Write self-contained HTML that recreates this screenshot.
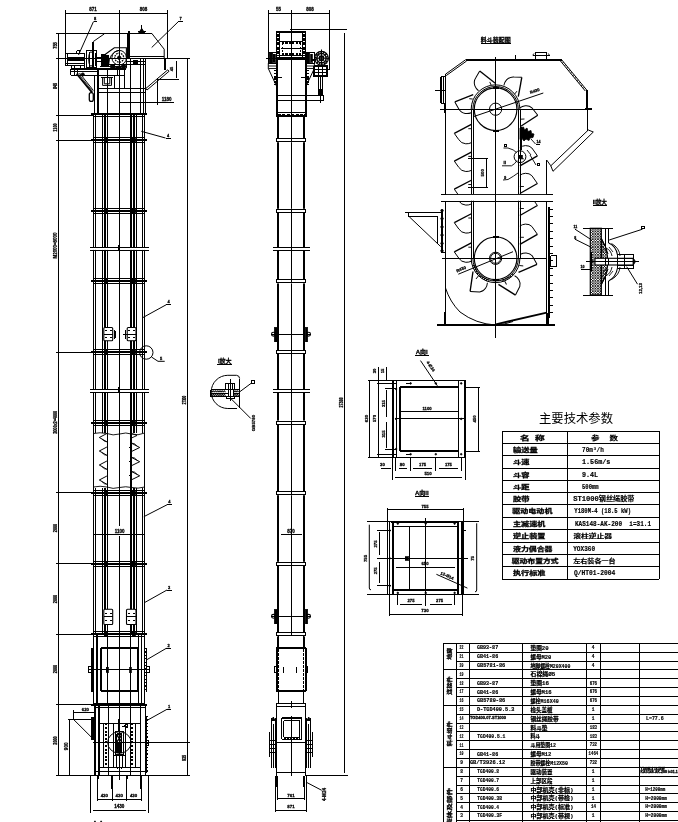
<!DOCTYPE html>
<html lang="zh"><head><meta charset="utf-8"><title>TGD</title>
<style>
html,body{margin:0;padding:0;background:#fff;}
body{width:678px;height:822px;overflow:hidden;}
svg{display:block;filter:grayscale(1);}
svg line,svg rect,svg circle,svg ellipse,svg path{stroke:#000;}
svg text{font-family:"Liberation Sans","Noto Sans CJK SC",sans-serif;fill:#000;}
svg text{stroke:#000;stroke-width:0.26px;}
svg text.m{font-family:"Liberation Mono","Noto Sans CJK SC",monospace;stroke-width:0.15px;}
</style></head><body>
<svg width="678" height="822" viewBox="0 0 678 822">
<rect x="0" y="0" width="678" height="822" fill="#fff" stroke="none" style="stroke:none"/>
<line x1="65.50" y1="13.50" x2="167.50" y2="13.50" stroke-width="1.00" shape-rendering="crispEdges"/>
<line x1="65.50" y1="10.00" x2="65.50" y2="65.00" stroke-width="1.00" shape-rendering="crispEdges"/>
<line x1="167.50" y1="10.00" x2="167.50" y2="58.30" stroke-width="1.00" shape-rendering="crispEdges"/>
<line x1="119.50" y1="10.00" x2="119.50" y2="526.00" stroke-width="1.00" shape-rendering="crispEdges"/>
<line x1="119.50" y1="536.00" x2="119.50" y2="780.00" stroke-width="1.00" shape-rendering="crispEdges"/>
<text x="93.00" y="10.50" font-size="4.5" text-anchor="middle" font-weight="bold">871</text>
<text x="143.50" y="10.50" font-size="4.5" text-anchor="middle" font-weight="bold">808</text>
<line x1="58.50" y1="33.30" x2="58.50" y2="775.50" stroke-width="1.00" shape-rendering="crispEdges"/>
<line x1="55.80" y1="33.50" x2="93.50" y2="33.50" stroke-width="1.00" shape-rendering="crispEdges"/>
<line x1="55.80" y1="58.50" x2="93.50" y2="58.50" stroke-width="1.00" shape-rendering="crispEdges"/>
<line x1="55.80" y1="115.50" x2="93.50" y2="115.50" stroke-width="1.00" shape-rendering="crispEdges"/>
<line x1="55.80" y1="140.50" x2="93.50" y2="140.50" stroke-width="1.00" shape-rendering="crispEdges"/>
<line x1="55.80" y1="352.50" x2="93.50" y2="352.50" stroke-width="1.00" shape-rendering="crispEdges"/>
<line x1="55.80" y1="492.50" x2="93.50" y2="492.50" stroke-width="1.00" shape-rendering="crispEdges"/>
<line x1="55.80" y1="563.50" x2="93.50" y2="563.50" stroke-width="1.00" shape-rendering="crispEdges"/>
<line x1="55.80" y1="634.50" x2="93.50" y2="634.50" stroke-width="1.00" shape-rendering="crispEdges"/>
<line x1="55.80" y1="704.50" x2="93.50" y2="704.50" stroke-width="1.00" shape-rendering="crispEdges"/>
<line x1="55.80" y1="775.50" x2="190.00" y2="775.50" stroke-width="1.00" shape-rendering="crispEdges"/>
<text x="56.70" y="45.50" font-size="5" text-anchor="middle" font-weight="bold" textLength="6.70" lengthAdjust="spacingAndGlyphs" transform="rotate(-90 56.70 45.50)">755</text>
<text x="56.70" y="86.00" font-size="5" text-anchor="middle" font-weight="bold" textLength="6.20" lengthAdjust="spacingAndGlyphs" transform="rotate(-90 56.70 86.00)">845</text>
<text x="56.70" y="127.50" font-size="5" text-anchor="middle" font-weight="bold" textLength="8.30" lengthAdjust="spacingAndGlyphs" transform="rotate(-90 56.70 127.50)">1100</text>
<text x="56.70" y="245.50" font-size="5" text-anchor="middle" font-weight="bold" textLength="26.00" lengthAdjust="spacingAndGlyphs" transform="rotate(-90 56.70 245.50)">M2000=8000</text>
<text x="56.70" y="422.30" font-size="5" text-anchor="middle" font-weight="bold" textLength="23.00" lengthAdjust="spacingAndGlyphs" transform="rotate(-90 56.70 422.30)">2000x2=4000</text>
<text x="56.70" y="528.00" font-size="5" text-anchor="middle" font-weight="bold" textLength="8.30" lengthAdjust="spacingAndGlyphs" transform="rotate(-90 56.70 528.00)">2000</text>
<text x="56.70" y="599.00" font-size="5" text-anchor="middle" font-weight="bold" textLength="8.30" lengthAdjust="spacingAndGlyphs" transform="rotate(-90 56.70 599.00)">2000</text>
<text x="56.70" y="669.00" font-size="5" text-anchor="middle" font-weight="bold" textLength="8.30" lengthAdjust="spacingAndGlyphs" transform="rotate(-90 56.70 669.00)">2000</text>
<text x="56.70" y="740.50" font-size="5" text-anchor="middle" font-weight="bold" textLength="8.30" lengthAdjust="spacingAndGlyphs" transform="rotate(-90 56.70 740.50)">2000</text>
<line x1="187.50" y1="58.30" x2="187.50" y2="775.50" stroke-width="1.00" shape-rendering="crispEdges"/>
<line x1="93.00" y1="58.50" x2="190.00" y2="58.50" stroke-width="1.00" shape-rendering="crispEdges"/>
<line x1="92.50" y1="742.50" x2="190.00" y2="742.50" stroke-width="1.00" shape-rendering="crispEdges"/>
<text x="185.80" y="400.00" font-size="4.8" text-anchor="middle" font-weight="bold" textLength="8.60" lengthAdjust="spacingAndGlyphs" transform="rotate(-90 185.80 400.00)">27300</text>
<text x="185.80" y="758.00" font-size="4.8" text-anchor="middle" font-weight="bold" textLength="6.20" lengthAdjust="spacingAndGlyphs" transform="rotate(-90 185.80 758.00)">935</text>
<line x1="55.80" y1="33.50" x2="151.70" y2="33.50" stroke-width="1.00" shape-rendering="crispEdges"/>
<path d="M151.7 33.3 L164.2 49.2 L164.2 58" stroke-width="1.00" fill="none"/>
<line x1="165.00" y1="58.00" x2="165.00" y2="70.00" stroke-width="2.00" shape-rendering="crispEdges"/>
<line x1="129.00" y1="30.80" x2="129.00" y2="58.30" stroke-width="2.00" shape-rendering="crispEdges"/>
<line x1="127.50" y1="33.30" x2="127.50" y2="58.30" stroke-width="1.00" shape-rendering="crispEdges"/>
<line x1="128.70" y1="56.50" x2="164.20" y2="56.50" stroke-width="1.00" shape-rendering="crispEdges"/>
<line x1="141.50" y1="25.00" x2="141.50" y2="33.30" stroke-width="1.00" shape-rendering="crispEdges"/>
<path d="M138.5 33.3 L141.7 28.5 L144.9 33.3 Z" stroke-width="1.00" fill="#000"/>
<line x1="137.50" y1="31.50" x2="146.00" y2="31.50" stroke-width="1.00" shape-rendering="crispEdges"/>
<line x1="151.70" y1="47.50" x2="178.30" y2="21.70" stroke-width="1.00"/>
<line x1="178.30" y1="21.50" x2="182.50" y2="21.50" stroke-width="1.00" shape-rendering="crispEdges"/>
<text x="180.50" y="20.30" font-size="4" text-anchor="middle" font-weight="bold">7</text>
<line x1="78.50" y1="55.00" x2="93.50" y2="21.50" stroke-width="1.00"/>
<line x1="93.50" y1="21.50" x2="97.00" y2="21.50" stroke-width="1.00" shape-rendering="crispEdges"/>
<text x="95.00" y="20.30" font-size="4" text-anchor="middle" font-weight="bold">8</text>
<line x1="93.20" y1="41.60" x2="104.30" y2="33.90" stroke-width="1.00"/>
<line x1="93.00" y1="41.60" x2="93.00" y2="50.50" stroke-width="2.00" shape-rendering="crispEdges"/>
<line x1="65.50" y1="53.50" x2="85.40" y2="53.50" stroke-width="1.00" shape-rendering="crispEdges"/>
<line x1="65.50" y1="65.50" x2="85.40" y2="65.50" stroke-width="1.00" shape-rendering="crispEdges"/>
<line x1="65.50" y1="53.80" x2="65.50" y2="65.80" stroke-width="1.00" shape-rendering="crispEdges"/>
<line x1="84.50" y1="53.80" x2="84.50" y2="65.80" stroke-width="1.00" shape-rendering="crispEdges"/>
<line x1="68.30" y1="59.00" x2="83.80" y2="59.00" stroke-width="4.00" shape-rendering="crispEdges"/>
<line x1="65.50" y1="63.50" x2="84.90" y2="63.50" stroke-width="1.00" shape-rendering="crispEdges"/>
<line x1="67.50" y1="53.80" x2="67.50" y2="65.80" stroke-width="1.00" shape-rendering="crispEdges"/>
<line x1="76.60" y1="50.50" x2="80.40" y2="50.50" stroke-width="1.00" shape-rendering="crispEdges"/>
<line x1="76.60" y1="53.50" x2="80.40" y2="53.50" stroke-width="1.00" shape-rendering="crispEdges"/>
<line x1="76.50" y1="50.50" x2="76.50" y2="53.40" stroke-width="1.00" shape-rendering="crispEdges"/>
<line x1="79.50" y1="50.50" x2="79.50" y2="53.40" stroke-width="1.00" shape-rendering="crispEdges"/>
<line x1="71.00" y1="65.50" x2="84.50" y2="65.50" stroke-width="1.00" shape-rendering="crispEdges"/>
<line x1="71.00" y1="68.50" x2="84.50" y2="68.50" stroke-width="1.00" shape-rendering="crispEdges"/>
<line x1="71.50" y1="65.80" x2="71.50" y2="68.70" stroke-width="1.00" shape-rendering="crispEdges"/>
<line x1="84.50" y1="65.80" x2="84.50" y2="68.70" stroke-width="1.00" shape-rendering="crispEdges"/>
<line x1="74.50" y1="65.80" x2="74.50" y2="68.70" stroke-width="1.00" shape-rendering="crispEdges"/>
<line x1="80.50" y1="65.80" x2="80.50" y2="68.70" stroke-width="1.00" shape-rendering="crispEdges"/>
<line x1="86.40" y1="50.50" x2="97.00" y2="50.50" stroke-width="1.00" shape-rendering="crispEdges"/>
<line x1="86.40" y1="67.50" x2="97.00" y2="67.50" stroke-width="1.00" shape-rendering="crispEdges"/>
<line x1="86.50" y1="50.50" x2="86.50" y2="67.60" stroke-width="1.00" shape-rendering="crispEdges"/>
<line x1="96.50" y1="50.50" x2="96.50" y2="67.60" stroke-width="1.00" shape-rendering="crispEdges"/>
<line x1="89.50" y1="52.00" x2="89.50" y2="66.50" stroke-width="1.00" shape-rendering="crispEdges"/>
<line x1="93.00" y1="51.00" x2="93.00" y2="67.00" stroke-width="2.00" shape-rendering="crispEdges"/>
<line x1="95.50" y1="53.00" x2="95.50" y2="66.00" stroke-width="1.00" shape-rendering="crispEdges"/>
<ellipse cx="91.00" cy="59.00" rx="2.40" ry="7.20" stroke-width="0.90" fill="none"/>
<line x1="96.50" y1="57.50" x2="101.50" y2="57.50" stroke-width="1.00" shape-rendering="crispEdges"/>
<line x1="96.50" y1="61.50" x2="101.50" y2="61.50" stroke-width="1.00" shape-rendering="crispEdges"/>
<line x1="84.90" y1="58.50" x2="86.40" y2="58.50" stroke-width="1.00" shape-rendering="crispEdges"/>
<rect x="101.70" y="54.50" width="3.50" height="11.80" stroke-width="1.00" fill="#000" shape-rendering="crispEdges"/>
<line x1="106.20" y1="55.50" x2="108.50" y2="55.50" stroke-width="1.00" shape-rendering="crispEdges"/>
<line x1="106.20" y1="66.50" x2="108.50" y2="66.50" stroke-width="1.00" shape-rendering="crispEdges"/>
<line x1="106.50" y1="55.50" x2="106.50" y2="66.00" stroke-width="1.00" shape-rendering="crispEdges"/>
<line x1="108.50" y1="55.50" x2="108.50" y2="66.00" stroke-width="1.00" shape-rendering="crispEdges"/>
<line x1="107.50" y1="55.50" x2="107.50" y2="66.00" stroke-width="1.00" shape-rendering="crispEdges"/>
<path d="M105.4 54.3 L114.3 47.7 L126.4 47.7 L126.4 68.2" stroke-width="1.10" fill="none"/>
<path d="M108.5 66 Q109 52 119.2 50.4" stroke-width="1.00" fill="none"/>
<circle cx="119.20" cy="57.70" r="7.30" stroke-width="1.00" fill="none"/>
<circle cx="119.2" cy="57.7" r="4.5" stroke-width="1.3" fill="none" stroke-dasharray="1.6 0.9"/>
<circle cx="119.20" cy="57.70" r="1.70" stroke-width="1.00" fill="#000"/>
<line x1="108.00" y1="64.50" x2="127.00" y2="64.50" stroke-width="1.00" shape-rendering="crispEdges"/>
<line x1="100.00" y1="66.50" x2="127.00" y2="66.50" stroke-width="1.00" shape-rendering="crispEdges"/>
<rect x="110.50" y="65.30" width="4.00" height="2.90" stroke-width="0.80" fill="#000" shape-rendering="crispEdges"/>
<rect x="121.50" y="65.30" width="3.50" height="2.90" stroke-width="0.80" fill="#000" shape-rendering="crispEdges"/>
<rect x="115.50" y="66.30" width="5.00" height="2.10" stroke-width="0.80" fill="#000" shape-rendering="crispEdges"/>
<line x1="70.50" y1="69.00" x2="126.40" y2="69.00" stroke-width="2.00" shape-rendering="crispEdges"/>
<line x1="70.50" y1="75.50" x2="124.20" y2="75.50" stroke-width="1.00" shape-rendering="crispEdges"/>
<line x1="70.50" y1="71.50" x2="98.00" y2="71.50" stroke-width="1.00" shape-rendering="crispEdges"/>
<line x1="70.50" y1="68.80" x2="70.50" y2="75.40" stroke-width="1.00" shape-rendering="crispEdges"/>
<line x1="74.50" y1="68.80" x2="74.50" y2="75.40" stroke-width="1.00" shape-rendering="crispEdges"/>
<line x1="77.50" y1="68.80" x2="77.50" y2="75.40" stroke-width="1.00" shape-rendering="crispEdges"/>
<line x1="98.00" y1="68.80" x2="98.00" y2="75.40" stroke-width="2.00" shape-rendering="crispEdges"/>
<line x1="107.50" y1="68.80" x2="107.50" y2="75.40" stroke-width="1.00" shape-rendering="crispEdges"/>
<line x1="117.50" y1="68.80" x2="117.50" y2="75.40" stroke-width="1.00" shape-rendering="crispEdges"/>
<line x1="124.50" y1="68.80" x2="124.50" y2="75.40" stroke-width="1.00" shape-rendering="crispEdges"/>
<path d="M102.6 77 L102.6 85.4 L111.5 85.4 L111.5 77 M104.3 77 L104.3 83.8 L109.8 83.8 L109.8 77" stroke-width="1.00" fill="none"/>
<line x1="101.00" y1="77.50" x2="113.00" y2="77.50" stroke-width="1.00" shape-rendering="crispEdges"/>
<line x1="114.50" y1="75.40" x2="114.50" y2="88.30" stroke-width="1.00" shape-rendering="crispEdges"/>
<line x1="124.50" y1="75.40" x2="124.50" y2="88.30" stroke-width="1.00" shape-rendering="crispEdges"/>
<line x1="76.60" y1="73.70" x2="92.10" y2="92.60" stroke-width="1.70"/>
<line x1="79.50" y1="73.00" x2="93.40" y2="90.50" stroke-width="1.00"/>
<line x1="78.00" y1="73.30" x2="92.80" y2="91.60" stroke-width="0.80"/>
<circle cx="82.80" cy="74.50" r="1.50" stroke-width="1.00" fill="#000"/>
<rect x="89.3" y="92.6" width="4" height="8.8" rx="1.9" stroke-width="1.3" fill="none"/>
<line x1="94.50" y1="75.40" x2="94.50" y2="115.00" stroke-width="1.00" shape-rendering="crispEdges"/>
<line x1="98.00" y1="75.40" x2="98.00" y2="115.00" stroke-width="2.00" shape-rendering="crispEdges"/>
<line x1="107.50" y1="75.40" x2="107.50" y2="115.00" stroke-width="1.00" shape-rendering="crispEdges"/>
<line x1="130.50" y1="58.30" x2="130.50" y2="115.00" stroke-width="1.00" shape-rendering="crispEdges"/>
<line x1="140.50" y1="58.30" x2="140.50" y2="115.00" stroke-width="1.00" shape-rendering="crispEdges"/>
<line x1="143.50" y1="58.30" x2="143.50" y2="115.00" stroke-width="1.00" shape-rendering="crispEdges"/>
<line x1="145.50" y1="58.30" x2="145.50" y2="115.00" stroke-width="1.00" shape-rendering="crispEdges"/>
<line x1="127.00" y1="61.50" x2="145.00" y2="61.50" stroke-width="1.00" shape-rendering="crispEdges"/>
<line x1="127.00" y1="64.50" x2="145.00" y2="64.50" stroke-width="1.00" shape-rendering="crispEdges"/>
<line x1="98.20" y1="88.50" x2="145.00" y2="88.50" stroke-width="1.00" shape-rendering="crispEdges"/>
<line x1="99.30" y1="92.50" x2="145.00" y2="92.50" stroke-width="1.00" shape-rendering="crispEdges"/>
<line x1="119.50" y1="102.50" x2="173.50" y2="102.50" stroke-width="1.00" shape-rendering="crispEdges"/>
<rect x="133.00" y="60.00" width="4.50" height="3.50" stroke-width="0.80" fill="#000" shape-rendering="crispEdges"/>
<line x1="145.80" y1="88.50" x2="167.80" y2="69.80" stroke-width="1.00"/>
<line x1="147.00" y1="90.00" x2="169.00" y2="71.30" stroke-width="1.00"/>
<line x1="145.80" y1="88.50" x2="147.00" y2="90.00" stroke-width="1.00"/>
<line x1="167.80" y1="69.80" x2="169.00" y2="71.30" stroke-width="1.00"/>
<line x1="157.50" y1="77.50" x2="157.50" y2="104.50" stroke-width="1.00" shape-rendering="crispEdges"/>
<line x1="157.50" y1="79.50" x2="179.00" y2="79.50" stroke-width="1.00" shape-rendering="crispEdges"/>
<line x1="176.50" y1="60.80" x2="176.50" y2="77.50" stroke-width="1.00" shape-rendering="crispEdges"/>
<text x="173.30" y="69.00" font-size="4" text-anchor="middle" font-weight="bold" transform="rotate(-90 173.30 69.00)">45</text>
<text x="166.70" y="100.60" font-size="4.5" text-anchor="middle" font-weight="bold">1180</text>
<line x1="141.30" y1="131.30" x2="165.50" y2="138.00" stroke-width="1.00"/>
<line x1="165.50" y1="138.50" x2="170.50" y2="138.50" stroke-width="1.00" shape-rendering="crispEdges"/>
<text x="168.00" y="136.70" font-size="4" text-anchor="middle" font-weight="bold">4</text>
<line x1="93.50" y1="115.00" x2="93.50" y2="634.30" stroke-width="1.00" shape-rendering="crispEdges"/>
<line x1="95.50" y1="115.00" x2="95.50" y2="432.50" stroke-width="1.00" shape-rendering="crispEdges"/>
<line x1="95.50" y1="487.50" x2="95.50" y2="634.30" stroke-width="1.00" shape-rendering="crispEdges"/>
<line x1="102.50" y1="115.00" x2="102.50" y2="432.50" stroke-width="1.00" shape-rendering="crispEdges"/>
<line x1="102.50" y1="487.50" x2="102.50" y2="634.30" stroke-width="1.00" shape-rendering="crispEdges"/>
<line x1="105.00" y1="115.00" x2="105.00" y2="432.50" stroke-width="2.00" shape-rendering="crispEdges"/>
<line x1="105.00" y1="487.50" x2="105.00" y2="634.30" stroke-width="2.00" shape-rendering="crispEdges"/>
<line x1="107.50" y1="115.00" x2="107.50" y2="634.30" stroke-width="1.00" shape-rendering="crispEdges"/>
<line x1="131.00" y1="115.00" x2="131.00" y2="634.30" stroke-width="2.00" shape-rendering="crispEdges"/>
<line x1="134.00" y1="115.00" x2="134.00" y2="432.50" stroke-width="2.00" shape-rendering="crispEdges"/>
<line x1="134.00" y1="487.50" x2="134.00" y2="634.30" stroke-width="2.00" shape-rendering="crispEdges"/>
<line x1="136.50" y1="115.00" x2="136.50" y2="432.50" stroke-width="1.00" shape-rendering="crispEdges"/>
<line x1="136.50" y1="487.50" x2="136.50" y2="634.30" stroke-width="1.00" shape-rendering="crispEdges"/>
<line x1="142.50" y1="115.00" x2="142.50" y2="432.50" stroke-width="1.00" shape-rendering="crispEdges"/>
<line x1="142.50" y1="487.50" x2="142.50" y2="634.30" stroke-width="1.00" shape-rendering="crispEdges"/>
<line x1="144.50" y1="115.00" x2="144.50" y2="634.30" stroke-width="1.00" shape-rendering="crispEdges"/>
<line x1="91.30" y1="114.00" x2="146.70" y2="114.00" stroke-width="2.00" shape-rendering="crispEdges"/>
<line x1="93.60" y1="116.50" x2="144.70" y2="116.50" stroke-width="1.00" shape-rendering="crispEdges"/>
<line x1="91.00" y1="140.00" x2="146.80" y2="140.00" stroke-width="2.00" shape-rendering="crispEdges"/>
<line x1="93.60" y1="137.50" x2="144.70" y2="137.50" stroke-width="1.00" shape-rendering="crispEdges"/>
<line x1="93.60" y1="142.50" x2="144.70" y2="142.50" stroke-width="1.00" shape-rendering="crispEdges"/>
<rect x="104.00" y="138.20" width="3.00" height="4.00" stroke-width="0.80" fill="#000" shape-rendering="crispEdges"/>
<rect x="132.00" y="138.20" width="3.00" height="4.00" stroke-width="0.80" fill="#000" shape-rendering="crispEdges"/>
<line x1="91.00" y1="211.00" x2="146.80" y2="211.00" stroke-width="2.00" shape-rendering="crispEdges"/>
<line x1="93.60" y1="208.50" x2="144.70" y2="208.50" stroke-width="1.00" shape-rendering="crispEdges"/>
<line x1="93.60" y1="213.50" x2="144.70" y2="213.50" stroke-width="1.00" shape-rendering="crispEdges"/>
<rect x="104.00" y="208.80" width="3.00" height="4.00" stroke-width="0.80" fill="#000" shape-rendering="crispEdges"/>
<rect x="132.00" y="208.80" width="3.00" height="4.00" stroke-width="0.80" fill="#000" shape-rendering="crispEdges"/>
<line x1="91.00" y1="281.00" x2="146.80" y2="281.00" stroke-width="2.00" shape-rendering="crispEdges"/>
<line x1="93.60" y1="278.50" x2="144.70" y2="278.50" stroke-width="1.00" shape-rendering="crispEdges"/>
<line x1="93.60" y1="283.50" x2="144.70" y2="283.50" stroke-width="1.00" shape-rendering="crispEdges"/>
<rect x="104.00" y="279.40" width="3.00" height="4.00" stroke-width="0.80" fill="#000" shape-rendering="crispEdges"/>
<rect x="132.00" y="279.40" width="3.00" height="4.00" stroke-width="0.80" fill="#000" shape-rendering="crispEdges"/>
<line x1="91.00" y1="352.00" x2="146.80" y2="352.00" stroke-width="2.00" shape-rendering="crispEdges"/>
<line x1="93.60" y1="349.50" x2="144.70" y2="349.50" stroke-width="1.00" shape-rendering="crispEdges"/>
<line x1="93.60" y1="354.50" x2="144.70" y2="354.50" stroke-width="1.00" shape-rendering="crispEdges"/>
<rect x="104.00" y="350.00" width="3.00" height="4.00" stroke-width="0.80" fill="#000" shape-rendering="crispEdges"/>
<rect x="132.00" y="350.00" width="3.00" height="4.00" stroke-width="0.80" fill="#000" shape-rendering="crispEdges"/>
<line x1="91.00" y1="423.00" x2="146.80" y2="423.00" stroke-width="2.00" shape-rendering="crispEdges"/>
<line x1="93.60" y1="420.50" x2="144.70" y2="420.50" stroke-width="1.00" shape-rendering="crispEdges"/>
<line x1="93.60" y1="425.50" x2="144.70" y2="425.50" stroke-width="1.00" shape-rendering="crispEdges"/>
<rect x="104.00" y="420.60" width="3.00" height="4.00" stroke-width="0.80" fill="#000" shape-rendering="crispEdges"/>
<rect x="132.00" y="420.60" width="3.00" height="4.00" stroke-width="0.80" fill="#000" shape-rendering="crispEdges"/>
<line x1="91.00" y1="493.00" x2="146.80" y2="493.00" stroke-width="2.00" shape-rendering="crispEdges"/>
<line x1="93.60" y1="490.50" x2="144.70" y2="490.50" stroke-width="1.00" shape-rendering="crispEdges"/>
<line x1="93.60" y1="495.50" x2="144.70" y2="495.50" stroke-width="1.00" shape-rendering="crispEdges"/>
<rect x="104.00" y="491.20" width="3.00" height="4.00" stroke-width="0.80" fill="#000" shape-rendering="crispEdges"/>
<rect x="132.00" y="491.20" width="3.00" height="4.00" stroke-width="0.80" fill="#000" shape-rendering="crispEdges"/>
<line x1="91.00" y1="564.00" x2="146.80" y2="564.00" stroke-width="2.00" shape-rendering="crispEdges"/>
<line x1="93.60" y1="561.50" x2="144.70" y2="561.50" stroke-width="1.00" shape-rendering="crispEdges"/>
<line x1="93.60" y1="566.50" x2="144.70" y2="566.50" stroke-width="1.00" shape-rendering="crispEdges"/>
<rect x="104.00" y="561.80" width="3.00" height="4.00" stroke-width="0.80" fill="#000" shape-rendering="crispEdges"/>
<rect x="132.00" y="561.80" width="3.00" height="4.00" stroke-width="0.80" fill="#000" shape-rendering="crispEdges"/>
<line x1="91.00" y1="634.00" x2="146.80" y2="634.00" stroke-width="2.00" shape-rendering="crispEdges"/>
<line x1="93.60" y1="631.50" x2="144.70" y2="631.50" stroke-width="1.00" shape-rendering="crispEdges"/>
<line x1="93.60" y1="636.50" x2="144.70" y2="636.50" stroke-width="1.00" shape-rendering="crispEdges"/>
<rect x="104.00" y="632.40" width="3.00" height="4.00" stroke-width="0.80" fill="#000" shape-rendering="crispEdges"/>
<rect x="132.00" y="632.40" width="3.00" height="4.00" stroke-width="0.80" fill="#000" shape-rendering="crispEdges"/>
<rect x="89.7" y="247.9" width="18.3" height="2" fill="#fff" style="stroke:none"/><rect x="130" y="247.9" width="19.2" height="2" fill="#fff" style="stroke:none"/>
<line x1="89.70" y1="247.50" x2="149.20" y2="247.50" stroke-width="1.00" shape-rendering="crispEdges"/>
<line x1="89.70" y1="250.50" x2="149.20" y2="250.50" stroke-width="1.00" shape-rendering="crispEdges"/>
<line x1="118.50" y1="244.90" x2="118.50" y2="250.90" stroke-width="1.00" shape-rendering="crispEdges"/>
<rect x="89.7" y="390.0" width="18.3" height="2" fill="#fff" style="stroke:none"/><rect x="130" y="390.0" width="19.2" height="2" fill="#fff" style="stroke:none"/>
<line x1="89.70" y1="389.50" x2="149.20" y2="389.50" stroke-width="1.00" shape-rendering="crispEdges"/>
<line x1="89.70" y1="392.50" x2="149.20" y2="392.50" stroke-width="1.00" shape-rendering="crispEdges"/>
<line x1="118.50" y1="387.00" x2="118.50" y2="393.00" stroke-width="1.00" shape-rendering="crispEdges"/>
<rect x="103.80" y="327.50" width="8.90" height="13.30" rx="1" stroke-width="1.1" fill="#fff"/>
<line x1="103.80" y1="334.50" x2="112.70" y2="334.50" stroke-width="1.00" shape-rendering="crispEdges"/>
<line x1="104.80" y1="330.50" x2="106.80" y2="330.50" stroke-width="1.00" shape-rendering="crispEdges"/>
<line x1="109.70" y1="330.50" x2="111.70" y2="330.50" stroke-width="1.00" shape-rendering="crispEdges"/>
<line x1="104.80" y1="337.50" x2="106.80" y2="337.50" stroke-width="1.00" shape-rendering="crispEdges"/>
<line x1="109.70" y1="337.50" x2="111.70" y2="337.50" stroke-width="1.00" shape-rendering="crispEdges"/>
<rect x="127.20" y="327.50" width="8.80" height="13.30" rx="1" stroke-width="1.1" fill="#fff"/>
<line x1="127.20" y1="334.50" x2="136.00" y2="334.50" stroke-width="1.00" shape-rendering="crispEdges"/>
<line x1="128.20" y1="330.50" x2="130.20" y2="330.50" stroke-width="1.00" shape-rendering="crispEdges"/>
<line x1="133.00" y1="330.50" x2="135.00" y2="330.50" stroke-width="1.00" shape-rendering="crispEdges"/>
<line x1="128.20" y1="337.50" x2="130.20" y2="337.50" stroke-width="1.00" shape-rendering="crispEdges"/>
<line x1="133.00" y1="337.50" x2="135.00" y2="337.50" stroke-width="1.00" shape-rendering="crispEdges"/>
<line x1="114.50" y1="330.00" x2="114.50" y2="338.50" stroke-width="1.00" shape-rendering="crispEdges"/>
<line x1="115.50" y1="331.00" x2="115.50" y2="337.50" stroke-width="1.00" shape-rendering="crispEdges"/>
<line x1="122.50" y1="334.50" x2="127.20" y2="334.50" stroke-width="1.00" shape-rendering="crispEdges"/>
<line x1="125.50" y1="329.50" x2="125.50" y2="339.00" stroke-width="1.00" shape-rendering="crispEdges"/>
<rect x="103.80" y="609.20" width="8.90" height="15.30" rx="1" stroke-width="1.1" fill="#fff"/>
<line x1="103.80" y1="616.50" x2="112.70" y2="616.50" stroke-width="1.00" shape-rendering="crispEdges"/>
<line x1="104.80" y1="613.50" x2="106.80" y2="613.50" stroke-width="1.00" shape-rendering="crispEdges"/>
<line x1="109.70" y1="613.50" x2="111.70" y2="613.50" stroke-width="1.00" shape-rendering="crispEdges"/>
<line x1="104.80" y1="620.50" x2="106.80" y2="620.50" stroke-width="1.00" shape-rendering="crispEdges"/>
<line x1="109.70" y1="620.50" x2="111.70" y2="620.50" stroke-width="1.00" shape-rendering="crispEdges"/>
<rect x="126.50" y="609.20" width="9.50" height="15.30" rx="1" stroke-width="1.1" fill="#fff"/>
<line x1="126.50" y1="616.50" x2="136.00" y2="616.50" stroke-width="1.00" shape-rendering="crispEdges"/>
<line x1="127.50" y1="613.50" x2="129.50" y2="613.50" stroke-width="1.00" shape-rendering="crispEdges"/>
<line x1="133.00" y1="613.50" x2="135.00" y2="613.50" stroke-width="1.00" shape-rendering="crispEdges"/>
<line x1="127.50" y1="620.50" x2="129.50" y2="620.50" stroke-width="1.00" shape-rendering="crispEdges"/>
<line x1="133.00" y1="620.50" x2="135.00" y2="620.50" stroke-width="1.00" shape-rendering="crispEdges"/>
<circle cx="146.30" cy="352.50" r="6.70" stroke-width="1.00" fill="none"/>
<path d="M151.5 357 L158 361.3 L164.7 361.3" stroke-width="1.00" fill="none"/>
<text x="161.00" y="360.00" font-size="4" text-anchor="middle" font-weight="bold">5</text>
<line x1="143.00" y1="317.50" x2="166.30" y2="304.70" stroke-width="1.00"/>
<line x1="166.30" y1="304.50" x2="171.30" y2="304.50" stroke-width="1.00" shape-rendering="crispEdges"/>
<text x="168.50" y="303.40" font-size="4" text-anchor="middle" font-weight="bold">4</text>
<line x1="143.80" y1="516.70" x2="167.20" y2="504.70" stroke-width="1.00"/>
<line x1="167.20" y1="504.50" x2="172.00" y2="504.50" stroke-width="1.00" shape-rendering="crispEdges"/>
<text x="169.30" y="503.40" font-size="4" text-anchor="middle" font-weight="bold">4</text>
<line x1="144.70" y1="602.50" x2="167.00" y2="590.00" stroke-width="1.00"/>
<line x1="167.00" y1="590.50" x2="171.50" y2="590.50" stroke-width="1.00" shape-rendering="crispEdges"/>
<text x="169.00" y="588.70" font-size="4" text-anchor="middle" font-weight="bold">3</text>
<line x1="146.30" y1="660.00" x2="166.30" y2="648.30" stroke-width="1.00"/>
<line x1="166.30" y1="648.50" x2="171.00" y2="648.50" stroke-width="1.00" shape-rendering="crispEdges"/>
<text x="168.50" y="647.00" font-size="4" text-anchor="middle" font-weight="bold">2</text>
<line x1="146.30" y1="720.80" x2="167.20" y2="709.20" stroke-width="1.00"/>
<line x1="167.20" y1="709.50" x2="171.00" y2="709.50" stroke-width="1.00" shape-rendering="crispEdges"/>
<text x="169.00" y="707.90" font-size="4" text-anchor="middle" font-weight="bold">1</text>
<path d="M93.6 433.5 Q100 432 106.9 433.5 Q113 436 119.5 434 Q126 432 131.5 434 Q138 436 144.7 433" stroke-width="0.90" fill="none"/>
<path d="M93.6 487 Q100 485.5 106.9 487 Q113 489.5 119.5 487.5 Q126 486 131.5 487.5 Q138 489 144.7 487" stroke-width="0.90" fill="none"/>
<path d="M106.9 433.5 L99.3 437.5 L106.9 441.8" stroke-width="1.00" fill="none"/>
<path d="M101.8 439.0 Q104.5 442.1 106.9 441.8" stroke-width="0.80" fill="none"/>
<path d="M106.9 447.0 L99.3 451.0 L106.9 455.3" stroke-width="1.00" fill="none"/>
<path d="M101.8 452.5 Q104.5 455.6 106.9 455.3" stroke-width="0.80" fill="none"/>
<path d="M106.9 461.0 L99.3 465.0 L106.9 469.3" stroke-width="1.00" fill="none"/>
<path d="M101.8 466.5 Q104.5 469.6 106.9 469.3" stroke-width="0.80" fill="none"/>
<path d="M106.9 476.0 L99.3 480.0 L106.9 484.3" stroke-width="1.00" fill="none"/>
<path d="M101.8 481.5 Q104.5 484.6 106.9 484.3" stroke-width="0.80" fill="none"/>
<path d="M131.5 443.2 L139.7 447.5 L131.5 451.5" stroke-width="1.00" fill="none"/>
<path d="M137 446.0 Q134.5 442.7 131.5 443.2" stroke-width="0.80" fill="none"/>
<line x1="129.00" y1="447.50" x2="131.50" y2="447.50" stroke-width="1.00" shape-rendering="crispEdges"/>
<path d="M131.5 457.4 L139.7 461.7 L131.5 465.7" stroke-width="1.00" fill="none"/>
<path d="M137 460.2 Q134.5 456.9 131.5 457.4" stroke-width="0.80" fill="none"/>
<line x1="129.00" y1="461.50" x2="131.50" y2="461.50" stroke-width="1.00" shape-rendering="crispEdges"/>
<path d="M131.5 471.5 L139.7 475.8 L131.5 479.8" stroke-width="1.00" fill="none"/>
<path d="M137 474.3 Q134.5 471.0 131.5 471.5" stroke-width="0.80" fill="none"/>
<line x1="129.00" y1="475.50" x2="131.50" y2="475.50" stroke-width="1.00" shape-rendering="crispEdges"/>
<path d="M131.5 433.5 L137 435.5 L131.5 438" stroke-width="0.90" fill="none"/>
<line x1="93.60" y1="534.50" x2="144.70" y2="534.50" stroke-width="1.00" shape-rendering="crispEdges"/>
<text x="119.70" y="532.60" font-size="4.5" text-anchor="middle" font-weight="bold">1100</text>
<line x1="93.50" y1="634.40" x2="93.50" y2="704.60" stroke-width="1.00" shape-rendering="crispEdges"/>
<line x1="96.50" y1="634.40" x2="96.50" y2="704.60" stroke-width="1.00" shape-rendering="crispEdges"/>
<line x1="97.50" y1="634.40" x2="97.50" y2="704.60" stroke-width="1.00" shape-rendering="crispEdges"/>
<line x1="107.50" y1="634.40" x2="107.50" y2="704.60" stroke-width="1.00" shape-rendering="crispEdges"/>
<line x1="130.50" y1="634.40" x2="130.50" y2="704.60" stroke-width="1.00" shape-rendering="crispEdges"/>
<line x1="138.50" y1="634.40" x2="138.50" y2="704.60" stroke-width="1.00" shape-rendering="crispEdges"/>
<line x1="141.50" y1="634.40" x2="141.50" y2="704.60" stroke-width="1.00" shape-rendering="crispEdges"/>
<line x1="144.50" y1="634.40" x2="144.50" y2="704.60" stroke-width="1.00" shape-rendering="crispEdges"/>
<line x1="93.60" y1="636.50" x2="144.70" y2="636.50" stroke-width="1.00" shape-rendering="crispEdges"/>
<line x1="100.80" y1="648.00" x2="138.00" y2="648.00" stroke-width="2.00" shape-rendering="crispEdges"/>
<line x1="100.80" y1="691.00" x2="138.00" y2="691.00" stroke-width="2.00" shape-rendering="crispEdges"/>
<line x1="101.00" y1="648.30" x2="101.00" y2="690.80" stroke-width="2.00" shape-rendering="crispEdges"/>
<line x1="138.00" y1="648.30" x2="138.00" y2="690.80" stroke-width="2.00" shape-rendering="crispEdges"/>
<line x1="88.80" y1="669.50" x2="149.70" y2="669.50" stroke-width="1.00" shape-rendering="crispEdges"/>
<line x1="92.00" y1="648.30" x2="92.00" y2="691.70" stroke-width="2.00" shape-rendering="crispEdges"/>
<line x1="88.80" y1="666.50" x2="91.80" y2="666.50" stroke-width="1.00" shape-rendering="crispEdges"/>
<line x1="88.80" y1="672.50" x2="91.80" y2="672.50" stroke-width="1.00" shape-rendering="crispEdges"/>
<line x1="88.50" y1="666.30" x2="88.50" y2="672.50" stroke-width="1.00" shape-rendering="crispEdges"/>
<line x1="91.50" y1="666.30" x2="91.50" y2="672.50" stroke-width="1.00" shape-rendering="crispEdges"/>
<line x1="146.00" y1="648.00" x2="146.00" y2="692.00" stroke-width="2.00" stroke-dasharray="1.2 2.2" shape-rendering="crispEdges"/>
<line x1="146.50" y1="648.00" x2="146.50" y2="692.00" stroke-width="1.00" shape-rendering="crispEdges"/>
<line x1="146.40" y1="666.50" x2="150.20" y2="666.50" stroke-width="1.00" shape-rendering="crispEdges"/>
<line x1="146.40" y1="672.50" x2="150.20" y2="672.50" stroke-width="1.00" shape-rendering="crispEdges"/>
<line x1="146.50" y1="666.50" x2="146.50" y2="672.50" stroke-width="1.00" shape-rendering="crispEdges"/>
<line x1="149.50" y1="666.50" x2="149.50" y2="672.50" stroke-width="1.00" shape-rendering="crispEdges"/>
<rect x="106.30" y="667.30" width="1.90" height="4.70" stroke-width="0.80" fill="#000" shape-rendering="crispEdges"/>
<rect x="129.60" y="667.30" width="1.60" height="4.70" stroke-width="0.80" fill="#000" shape-rendering="crispEdges"/>
<line x1="93.60" y1="703.50" x2="144.70" y2="703.50" stroke-width="1.00" shape-rendering="crispEdges"/>
<line x1="91.00" y1="705.00" x2="146.80" y2="705.00" stroke-width="2.00" shape-rendering="crispEdges"/>
<line x1="93.60" y1="707.50" x2="144.70" y2="707.50" stroke-width="1.00" shape-rendering="crispEdges"/>
<line x1="94.50" y1="705.00" x2="94.50" y2="775.50" stroke-width="1.00" shape-rendering="crispEdges"/>
<line x1="95.50" y1="705.00" x2="95.50" y2="775.50" stroke-width="1.00" shape-rendering="crispEdges"/>
<line x1="99.00" y1="705.00" x2="99.00" y2="775.50" stroke-width="2.00" shape-rendering="crispEdges"/>
<line x1="108.50" y1="705.00" x2="108.50" y2="775.50" stroke-width="1.00" shape-rendering="crispEdges"/>
<line x1="130.50" y1="705.00" x2="130.50" y2="775.50" stroke-width="1.00" shape-rendering="crispEdges"/>
<line x1="140.50" y1="705.00" x2="140.50" y2="775.50" stroke-width="1.00" shape-rendering="crispEdges"/>
<line x1="145.50" y1="705.00" x2="145.50" y2="775.50" stroke-width="1.00" shape-rendering="crispEdges"/>
<line x1="146.50" y1="716.00" x2="146.50" y2="773.30" stroke-width="1.00" shape-rendering="crispEdges"/>
<line x1="147.00" y1="716.00" x2="147.00" y2="773.30" stroke-width="2.00" stroke-dasharray="1.2 2.2" shape-rendering="crispEdges"/>
<line x1="146.40" y1="740.50" x2="149.20" y2="740.50" stroke-width="1.00" shape-rendering="crispEdges"/>
<line x1="146.40" y1="745.50" x2="149.20" y2="745.50" stroke-width="1.00" shape-rendering="crispEdges"/>
<line x1="146.50" y1="740.80" x2="146.50" y2="745.80" stroke-width="1.00" shape-rendering="crispEdges"/>
<line x1="148.50" y1="740.80" x2="148.50" y2="745.80" stroke-width="1.00" shape-rendering="crispEdges"/>
<line x1="99.20" y1="723.50" x2="140.00" y2="723.50" stroke-width="1.00" shape-rendering="crispEdges"/>
<line x1="99.20" y1="767.50" x2="140.00" y2="767.50" stroke-width="1.00" shape-rendering="crispEdges"/>
<line x1="94.20" y1="771.50" x2="145.00" y2="771.50" stroke-width="1.00" shape-rendering="crispEdges"/>
<line x1="106.00" y1="723.30" x2="106.00" y2="767.50" stroke-width="2.00" stroke-dasharray="2 1.6" shape-rendering="crispEdges"/>
<line x1="132.00" y1="723.30" x2="132.00" y2="767.50" stroke-width="2.00" stroke-dasharray="2 1.6" shape-rendering="crispEdges"/>
<line x1="103.50" y1="723.30" x2="103.50" y2="767.50" stroke-width="1.00" shape-rendering="crispEdges"/>
<line x1="135.50" y1="723.30" x2="135.50" y2="767.50" stroke-width="1.00" shape-rendering="crispEdges"/>
<line x1="113.50" y1="723.30" x2="113.50" y2="767.50" stroke-width="1.00" shape-rendering="crispEdges"/>
<line x1="125.50" y1="723.30" x2="125.50" y2="767.50" stroke-width="1.00" shape-rendering="crispEdges"/>
<line x1="116.50" y1="755.00" x2="116.50" y2="767.50" stroke-width="1.00" shape-rendering="crispEdges"/>
<line x1="122.50" y1="755.00" x2="122.50" y2="767.50" stroke-width="1.00" shape-rendering="crispEdges"/>
<line x1="122.00" y1="726.50" x2="128.00" y2="726.50" stroke-width="1.00" shape-rendering="crispEdges"/>
<line x1="124.50" y1="724.50" x2="128.00" y2="724.50" stroke-width="1.00" shape-rendering="crispEdges"/>
<line x1="124.50" y1="727.50" x2="128.00" y2="727.50" stroke-width="1.00" shape-rendering="crispEdges"/>
<line x1="124.50" y1="724.50" x2="124.50" y2="727.00" stroke-width="1.00" shape-rendering="crispEdges"/>
<line x1="127.50" y1="724.50" x2="127.50" y2="727.00" stroke-width="1.00" shape-rendering="crispEdges"/>
<ellipse cx="119.40" cy="742.50" rx="11.70" ry="10.80" stroke-width="1.00" fill="none"/>
<line x1="115.20" y1="731.50" x2="123.90" y2="731.50" stroke-width="1.00" shape-rendering="crispEdges"/>
<line x1="115.20" y1="754.50" x2="123.90" y2="754.50" stroke-width="1.00" shape-rendering="crispEdges"/>
<line x1="115.50" y1="731.70" x2="115.50" y2="754.20" stroke-width="1.00" shape-rendering="crispEdges"/>
<line x1="123.50" y1="731.70" x2="123.50" y2="754.20" stroke-width="1.00" shape-rendering="crispEdges"/>
<line x1="116.80" y1="733.50" x2="122.30" y2="733.50" stroke-width="1.00" shape-rendering="crispEdges"/>
<line x1="116.80" y1="752.50" x2="122.30" y2="752.50" stroke-width="1.00" shape-rendering="crispEdges"/>
<line x1="116.50" y1="733.50" x2="116.50" y2="752.50" stroke-width="1.00" shape-rendering="crispEdges"/>
<line x1="121.50" y1="733.50" x2="121.50" y2="752.50" stroke-width="1.00" shape-rendering="crispEdges"/>
<line x1="119.00" y1="719.00" x2="119.00" y2="731.00" stroke-width="2.00" shape-rendering="crispEdges"/>
<line x1="118.00" y1="743.00" x2="118.00" y2="752.00" stroke-width="2.00" shape-rendering="crispEdges"/>
<line x1="121.00" y1="743.00" x2="121.00" y2="752.00" stroke-width="2.00" shape-rendering="crispEdges"/>
<path d="M116.8 735 L121.8 742 M121.8 735 L116.8 742 M117 734.5 L121.6 734.5" stroke-width="1.30" fill="none"/>
<line x1="117.00" y1="768.50" x2="123.00" y2="768.50" stroke-width="1.00" stroke-dasharray="1 1" shape-rendering="crispEdges"/>
<line x1="113.30" y1="755.50" x2="125.00" y2="755.50" stroke-width="1.00" shape-rendering="crispEdges"/>
<line x1="67.50" y1="719.50" x2="91.70" y2="719.50" stroke-width="1.00" shape-rendering="crispEdges"/>
<line x1="69.50" y1="719.20" x2="69.50" y2="775.50" stroke-width="1.00" shape-rendering="crispEdges"/>
<line x1="73.30" y1="719.20" x2="92.50" y2="738.30" stroke-width="1.00"/>
<line x1="92.50" y1="716.70" x2="92.50" y2="740.00" stroke-width="3.00" shape-rendering="crispEdges"/>
<line x1="73.30" y1="712.50" x2="93.50" y2="712.50" stroke-width="1.00" shape-rendering="crispEdges"/>
<line x1="73.50" y1="710.00" x2="73.50" y2="719.20" stroke-width="1.00" shape-rendering="crispEdges"/>
<text x="85.30" y="710.90" font-size="4.2" text-anchor="middle" font-weight="bold">620</text>
<text x="67.60" y="746.30" font-size="4.6" text-anchor="middle" font-weight="bold" transform="rotate(-90 67.60 746.30)">900</text>
<line x1="90.50" y1="775.50" x2="90.50" y2="812.50" stroke-width="1.00" shape-rendering="crispEdges"/>
<line x1="148.50" y1="775.50" x2="148.50" y2="812.50" stroke-width="1.00" shape-rendering="crispEdges"/>
<line x1="97.50" y1="775.50" x2="97.50" y2="800.50" stroke-width="1.00" shape-rendering="crispEdges"/>
<line x1="112.50" y1="775.50" x2="112.50" y2="800.50" stroke-width="1.00" shape-rendering="crispEdges"/>
<line x1="126.50" y1="775.50" x2="126.50" y2="800.50" stroke-width="1.00" shape-rendering="crispEdges"/>
<line x1="141.50" y1="775.50" x2="141.50" y2="800.50" stroke-width="1.00" shape-rendering="crispEdges"/>
<line x1="112.00" y1="775.50" x2="112.00" y2="789.00" stroke-width="2.00" shape-rendering="crispEdges"/>
<line x1="141.00" y1="775.50" x2="141.00" y2="789.00" stroke-width="2.00" shape-rendering="crispEdges"/>
<line x1="98.00" y1="775.50" x2="98.00" y2="779.00" stroke-width="2.00" shape-rendering="crispEdges"/>
<line x1="127.00" y1="775.50" x2="127.00" y2="779.00" stroke-width="2.00" shape-rendering="crispEdges"/>
<line x1="97.50" y1="799.50" x2="141.20" y2="799.50" stroke-width="1.00" shape-rendering="crispEdges"/>
<text x="104.30" y="796.80" font-size="4.4" text-anchor="middle" font-weight="bold">430</text>
<text x="119.20" y="796.80" font-size="4.4" text-anchor="middle" font-weight="bold">430</text>
<text x="133.60" y="796.80" font-size="4.4" text-anchor="middle" font-weight="bold">430</text>
<line x1="93.00" y1="810.50" x2="145.50" y2="810.50" stroke-width="1.00" shape-rendering="crispEdges"/>
<text x="119.30" y="807.80" font-size="4.6" text-anchor="middle" font-weight="bold">1430</text>
<text x="98.00" y="825.40" font-size="6" text-anchor="middle" font-weight="bold">A-A</text>
<line x1="268.50" y1="10.00" x2="268.50" y2="58.00" stroke-width="1.00" shape-rendering="crispEdges"/>
<line x1="329.50" y1="10.00" x2="329.50" y2="69.00" stroke-width="1.00" shape-rendering="crispEdges"/>
<line x1="268.70" y1="13.50" x2="329.70" y2="13.50" stroke-width="1.00" shape-rendering="crispEdges"/>
<text x="278.50" y="10.50" font-size="4.5" text-anchor="middle" font-weight="bold">55</text>
<text x="310.00" y="10.50" font-size="4.5" text-anchor="middle" font-weight="bold">808</text>
<line x1="290.00" y1="29.50" x2="347.00" y2="29.50" stroke-width="1.00" shape-rendering="crispEdges"/>
<line x1="344.50" y1="32.50" x2="344.50" y2="772.50" stroke-width="1.00" shape-rendering="crispEdges"/>
<line x1="305.00" y1="775.50" x2="347.50" y2="775.50" stroke-width="1.00" shape-rendering="crispEdges"/>
<text x="342.60" y="402.50" font-size="4.8" text-anchor="middle" font-weight="bold" textLength="10.00" lengthAdjust="spacingAndGlyphs" transform="rotate(-90 342.60 402.50)">27300</text>
<line x1="291.50" y1="10.00" x2="291.50" y2="632.00" stroke-width="1.00" shape-rendering="crispEdges"/>
<line x1="291.50" y1="715.80" x2="291.50" y2="775.50" stroke-width="1.00" shape-rendering="crispEdges"/>
<line x1="276.90" y1="32.50" x2="306.10" y2="32.50" stroke-width="1.00" shape-rendering="crispEdges"/>
<line x1="276.90" y1="57.50" x2="306.10" y2="57.50" stroke-width="1.00" shape-rendering="crispEdges"/>
<line x1="276.50" y1="32.00" x2="276.50" y2="57.60" stroke-width="1.00" shape-rendering="crispEdges"/>
<line x1="305.50" y1="32.00" x2="305.50" y2="57.60" stroke-width="1.00" shape-rendering="crispEdges"/>
<line x1="276.40" y1="32.00" x2="305.60" y2="32.00" stroke-width="2.00" shape-rendering="crispEdges"/>
<line x1="278.00" y1="34.00" x2="278.00" y2="56.00" stroke-width="2.00" stroke-dasharray="3 1.2" shape-rendering="crispEdges"/>
<line x1="304.00" y1="34.00" x2="304.00" y2="56.00" stroke-width="2.00" stroke-dasharray="3 1.2" shape-rendering="crispEdges"/>
<line x1="279.50" y1="33.30" x2="279.50" y2="57.50" stroke-width="1.00" shape-rendering="crispEdges"/>
<line x1="302.50" y1="33.30" x2="302.50" y2="57.50" stroke-width="1.00" shape-rendering="crispEdges"/>
<line x1="279.40" y1="41.50" x2="302.80" y2="41.50" stroke-width="1.00" shape-rendering="crispEdges"/>
<line x1="280.50" y1="48.50" x2="302.80" y2="48.50" stroke-width="1.00" shape-rendering="crispEdges"/>
<line x1="279.40" y1="55.50" x2="302.80" y2="55.50" stroke-width="1.00" shape-rendering="crispEdges"/>
<line x1="282.00" y1="43.00" x2="300.50" y2="43.00" stroke-width="2.00" stroke-dasharray="2.2 1.2" shape-rendering="crispEdges"/>
<line x1="282.00" y1="54.00" x2="300.50" y2="54.00" stroke-width="2.00" stroke-dasharray="2.2 1.2" shape-rendering="crispEdges"/>
<line x1="282.50" y1="43.00" x2="282.50" y2="54.00" stroke-width="1.00" stroke-dasharray="2 1.6" shape-rendering="crispEdges"/>
<line x1="300.50" y1="43.00" x2="300.50" y2="54.00" stroke-width="1.00" stroke-dasharray="2 1.6" shape-rendering="crispEdges"/>
<line x1="276.40" y1="58.00" x2="305.60" y2="58.00" stroke-width="2.00" shape-rendering="crispEdges"/>
<line x1="276.90" y1="59.50" x2="305.60" y2="59.50" stroke-width="1.00" shape-rendering="crispEdges"/>
<line x1="277.00" y1="57.50" x2="277.00" y2="115.80" stroke-width="2.00" shape-rendering="crispEdges"/>
<line x1="306.00" y1="57.50" x2="306.00" y2="115.80" stroke-width="2.00" shape-rendering="crispEdges"/>
<line x1="268.30" y1="52.50" x2="276.90" y2="52.50" stroke-width="1.00" shape-rendering="crispEdges"/>
<line x1="268.30" y1="63.50" x2="276.90" y2="63.50" stroke-width="1.00" shape-rendering="crispEdges"/>
<line x1="268.50" y1="52.10" x2="268.50" y2="63.20" stroke-width="1.00" shape-rendering="crispEdges"/>
<line x1="276.50" y1="52.10" x2="276.50" y2="63.20" stroke-width="1.00" shape-rendering="crispEdges"/>
<rect x="269.60" y="53.00" width="2.60" height="9.60" stroke-width="0.90" fill="#000" shape-rendering="crispEdges"/>
<rect x="273.30" y="54.00" width="1.70" height="8.00" stroke-width="0.80" fill="#000" shape-rendering="crispEdges"/>
<line x1="265.50" y1="58.50" x2="276.80" y2="58.50" stroke-width="1.00" shape-rendering="crispEdges"/>
<line x1="306.00" y1="52.50" x2="314.80" y2="52.50" stroke-width="1.00" shape-rendering="crispEdges"/>
<line x1="306.00" y1="63.50" x2="314.80" y2="63.50" stroke-width="1.00" shape-rendering="crispEdges"/>
<line x1="306.50" y1="52.10" x2="306.50" y2="63.20" stroke-width="1.00" shape-rendering="crispEdges"/>
<line x1="314.50" y1="52.10" x2="314.50" y2="63.20" stroke-width="1.00" shape-rendering="crispEdges"/>
<rect x="307.20" y="53.00" width="2.20" height="9.60" stroke-width="0.90" fill="#000" shape-rendering="crispEdges"/>
<rect x="310.60" y="54.00" width="1.60" height="8.00" stroke-width="0.80" fill="#000" shape-rendering="crispEdges"/>
<line x1="312.00" y1="60.00" x2="316.00" y2="60.00" stroke-width="2.00" shape-rendering="crispEdges"/>
<path d="M268.3 63.2 L268.3 68.5 L276.8 86.7" stroke-width="1.00" fill="none"/>
<path d="M268.3 66 L276.8 66" stroke-width="0.90" fill="none"/>
<path d="M268.3 68.5 L276.8 68.5" stroke-width="0.90" fill="none"/>
<path d="M314.3 63.2 L314.3 68.5 L305.8 86.7" stroke-width="1.00" fill="none"/>
<path d="M305.8 66 L314.3 66" stroke-width="0.90" fill="none"/>
<path d="M305.8 68.5 L314.3 68.5" stroke-width="0.90" fill="none"/>
<line x1="275.00" y1="70.00" x2="275.00" y2="86.00" stroke-width="2.00" stroke-dasharray="1.4 1.4" shape-rendering="crispEdges"/>
<line x1="308.00" y1="70.00" x2="308.00" y2="86.00" stroke-width="2.00" stroke-dasharray="1.4 1.4" shape-rendering="crispEdges"/>
<line x1="274.00" y1="77.50" x2="281.70" y2="77.50" stroke-width="1.00" shape-rendering="crispEdges"/>
<line x1="300.80" y1="77.50" x2="308.50" y2="77.50" stroke-width="1.00" shape-rendering="crispEdges"/>
<circle cx="321.50" cy="58.20" r="6.90" stroke-width="1.20" fill="none"/>
<circle cx="321.50" cy="58.20" r="4.60" stroke-width="1.50" fill="none"/>
<circle cx="321.50" cy="58.20" r="2.20" stroke-width="1.30" fill="none"/>
<circle cx="321.5" cy="58.2" r="5.9" stroke-width="1.6" fill="none" stroke-dasharray="1.4 1.2"/>
<path d="M316.3 53 L326.7 63.4 M326.7 53 L316.3 63.4 M321.5 49.5 L321.5 66 M314.5 58.2 L328.5 58.2" stroke-width="1.00" fill="none"/>
<line x1="314.00" y1="66.00" x2="327.50" y2="66.00" stroke-width="2.00" shape-rendering="crispEdges"/>
<line x1="314.00" y1="76.00" x2="327.50" y2="76.00" stroke-width="2.00" shape-rendering="crispEdges"/>
<line x1="314.00" y1="66.00" x2="314.00" y2="76.50" stroke-width="2.00" shape-rendering="crispEdges"/>
<line x1="327.00" y1="66.00" x2="327.00" y2="76.50" stroke-width="2.00" shape-rendering="crispEdges"/>
<line x1="314.50" y1="69.50" x2="329.80" y2="69.50" stroke-width="1.00" shape-rendering="crispEdges"/>
<line x1="314.50" y1="72.50" x2="327.00" y2="72.50" stroke-width="1.00" shape-rendering="crispEdges"/>
<line x1="318.50" y1="66.00" x2="318.50" y2="76.50" stroke-width="1.00" shape-rendering="crispEdges"/>
<line x1="322.50" y1="66.00" x2="322.50" y2="76.50" stroke-width="1.00" shape-rendering="crispEdges"/>
<line x1="318.70" y1="76.50" x2="323.10" y2="76.50" stroke-width="1.00" shape-rendering="crispEdges"/>
<line x1="318.70" y1="90.50" x2="323.10" y2="90.50" stroke-width="1.00" shape-rendering="crispEdges"/>
<line x1="318.50" y1="76.50" x2="318.50" y2="90.00" stroke-width="1.00" shape-rendering="crispEdges"/>
<line x1="322.50" y1="76.50" x2="322.50" y2="90.00" stroke-width="1.00" shape-rendering="crispEdges"/>
<line x1="320.50" y1="76.50" x2="320.50" y2="90.00" stroke-width="1.00" shape-rendering="crispEdges"/>
<rect x="318.70" y="89.80" width="3.90" height="5.50" stroke-width="1.00" fill="#000" shape-rendering="crispEdges"/>
<line x1="277.70" y1="95.50" x2="324.20" y2="95.50" stroke-width="1.00" shape-rendering="crispEdges"/>
<line x1="277.70" y1="100.50" x2="324.20" y2="100.50" stroke-width="1.00" shape-rendering="crispEdges"/>
<line x1="277.50" y1="95.30" x2="277.50" y2="100.90" stroke-width="1.00" shape-rendering="crispEdges"/>
<line x1="323.50" y1="95.30" x2="323.50" y2="100.90" stroke-width="1.00" shape-rendering="crispEdges"/>
<line x1="320.50" y1="93.00" x2="320.50" y2="103.00" stroke-width="1.00" shape-rendering="crispEdges"/>
<line x1="276.80" y1="112.50" x2="305.80" y2="112.50" stroke-width="1.00" shape-rendering="crispEdges"/>
<line x1="275.80" y1="116.00" x2="306.60" y2="116.00" stroke-width="2.00" shape-rendering="crispEdges"/>
<line x1="278.00" y1="114.50" x2="304.60" y2="114.50" stroke-width="1.00" stroke-dasharray="3 1.4" shape-rendering="crispEdges"/>
<line x1="278.00" y1="117.00" x2="278.00" y2="648.00" stroke-width="2.00" shape-rendering="crispEdges"/>
<line x1="304.00" y1="117.00" x2="304.00" y2="648.00" stroke-width="2.00" shape-rendering="crispEdges"/>
<rect x="276.1" y="138.2" width="29.8" height="4" fill="#fff" style="stroke:none"/>
<line x1="276.10" y1="138.50" x2="305.90" y2="138.50" stroke-width="1.00" shape-rendering="crispEdges"/>
<line x1="276.10" y1="141.50" x2="305.90" y2="141.50" stroke-width="1.00" shape-rendering="crispEdges"/>
<line x1="276.50" y1="138.50" x2="276.50" y2="141.50" stroke-width="1.00" shape-rendering="crispEdges"/>
<line x1="305.50" y1="138.50" x2="305.50" y2="141.50" stroke-width="1.00" shape-rendering="crispEdges"/>
<line x1="291.50" y1="138.50" x2="291.50" y2="141.50" stroke-width="1.00" shape-rendering="crispEdges"/>
<rect x="276.1" y="208.8" width="29.8" height="4" fill="#fff" style="stroke:none"/>
<line x1="276.10" y1="209.50" x2="305.90" y2="209.50" stroke-width="1.00" shape-rendering="crispEdges"/>
<line x1="276.10" y1="212.50" x2="305.90" y2="212.50" stroke-width="1.00" shape-rendering="crispEdges"/>
<line x1="276.50" y1="209.50" x2="276.50" y2="212.50" stroke-width="1.00" shape-rendering="crispEdges"/>
<line x1="305.50" y1="209.50" x2="305.50" y2="212.50" stroke-width="1.00" shape-rendering="crispEdges"/>
<line x1="291.50" y1="209.50" x2="291.50" y2="212.50" stroke-width="1.00" shape-rendering="crispEdges"/>
<rect x="276.1" y="279.4" width="29.8" height="4" fill="#fff" style="stroke:none"/>
<line x1="276.10" y1="279.50" x2="305.90" y2="279.50" stroke-width="1.00" shape-rendering="crispEdges"/>
<line x1="276.10" y1="282.50" x2="305.90" y2="282.50" stroke-width="1.00" shape-rendering="crispEdges"/>
<line x1="276.50" y1="279.50" x2="276.50" y2="282.50" stroke-width="1.00" shape-rendering="crispEdges"/>
<line x1="305.50" y1="279.50" x2="305.50" y2="282.50" stroke-width="1.00" shape-rendering="crispEdges"/>
<line x1="291.50" y1="279.50" x2="291.50" y2="282.50" stroke-width="1.00" shape-rendering="crispEdges"/>
<rect x="276.1" y="350.0" width="29.8" height="4" fill="#fff" style="stroke:none"/>
<line x1="276.10" y1="350.50" x2="305.90" y2="350.50" stroke-width="1.00" shape-rendering="crispEdges"/>
<line x1="276.10" y1="353.50" x2="305.90" y2="353.50" stroke-width="1.00" shape-rendering="crispEdges"/>
<line x1="276.50" y1="350.50" x2="276.50" y2="353.50" stroke-width="1.00" shape-rendering="crispEdges"/>
<line x1="305.50" y1="350.50" x2="305.50" y2="353.50" stroke-width="1.00" shape-rendering="crispEdges"/>
<line x1="291.50" y1="350.50" x2="291.50" y2="353.50" stroke-width="1.00" shape-rendering="crispEdges"/>
<rect x="276.1" y="420.6" width="29.8" height="4" fill="#fff" style="stroke:none"/>
<line x1="276.10" y1="421.50" x2="305.90" y2="421.50" stroke-width="1.00" shape-rendering="crispEdges"/>
<line x1="276.10" y1="424.50" x2="305.90" y2="424.50" stroke-width="1.00" shape-rendering="crispEdges"/>
<line x1="276.50" y1="421.50" x2="276.50" y2="424.50" stroke-width="1.00" shape-rendering="crispEdges"/>
<line x1="305.50" y1="421.50" x2="305.50" y2="424.50" stroke-width="1.00" shape-rendering="crispEdges"/>
<line x1="291.50" y1="421.50" x2="291.50" y2="424.50" stroke-width="1.00" shape-rendering="crispEdges"/>
<rect x="276.1" y="491.2" width="29.8" height="4" fill="#fff" style="stroke:none"/>
<line x1="276.10" y1="491.50" x2="305.90" y2="491.50" stroke-width="1.00" shape-rendering="crispEdges"/>
<line x1="276.10" y1="494.50" x2="305.90" y2="494.50" stroke-width="1.00" shape-rendering="crispEdges"/>
<line x1="276.50" y1="491.50" x2="276.50" y2="494.50" stroke-width="1.00" shape-rendering="crispEdges"/>
<line x1="305.50" y1="491.50" x2="305.50" y2="494.50" stroke-width="1.00" shape-rendering="crispEdges"/>
<line x1="291.50" y1="491.50" x2="291.50" y2="494.50" stroke-width="1.00" shape-rendering="crispEdges"/>
<rect x="276.1" y="561.8" width="29.8" height="4" fill="#fff" style="stroke:none"/>
<line x1="276.10" y1="562.50" x2="305.90" y2="562.50" stroke-width="1.00" shape-rendering="crispEdges"/>
<line x1="276.10" y1="565.50" x2="305.90" y2="565.50" stroke-width="1.00" shape-rendering="crispEdges"/>
<line x1="276.50" y1="562.50" x2="276.50" y2="565.50" stroke-width="1.00" shape-rendering="crispEdges"/>
<line x1="305.50" y1="562.50" x2="305.50" y2="565.50" stroke-width="1.00" shape-rendering="crispEdges"/>
<line x1="291.50" y1="562.50" x2="291.50" y2="565.50" stroke-width="1.00" shape-rendering="crispEdges"/>
<rect x="276.1" y="632.4" width="29.8" height="4" fill="#fff" style="stroke:none"/>
<line x1="276.10" y1="632.50" x2="305.90" y2="632.50" stroke-width="1.00" shape-rendering="crispEdges"/>
<line x1="276.10" y1="635.50" x2="305.90" y2="635.50" stroke-width="1.00" shape-rendering="crispEdges"/>
<line x1="276.50" y1="632.50" x2="276.50" y2="635.50" stroke-width="1.00" shape-rendering="crispEdges"/>
<line x1="305.50" y1="632.50" x2="305.50" y2="635.50" stroke-width="1.00" shape-rendering="crispEdges"/>
<line x1="291.50" y1="632.50" x2="291.50" y2="635.50" stroke-width="1.00" shape-rendering="crispEdges"/>
<rect x="272.8" y="247.4" width="37.1" height="3" fill="#fff" style="stroke:none"/>
<line x1="272.80" y1="247.50" x2="309.90" y2="247.50" stroke-width="1.00" shape-rendering="crispEdges"/>
<line x1="272.80" y1="250.50" x2="309.90" y2="250.50" stroke-width="1.00" shape-rendering="crispEdges"/>
<line x1="291.50" y1="244.90" x2="291.50" y2="252.40" stroke-width="1.00" shape-rendering="crispEdges"/>
<line x1="291.50" y1="247.40" x2="291.50" y2="250.40" stroke-width="1.00" shape-rendering="crispEdges"/>
<rect x="272.8" y="389.5" width="37.1" height="3" fill="#fff" style="stroke:none"/>
<line x1="272.80" y1="389.50" x2="309.90" y2="389.50" stroke-width="1.00" shape-rendering="crispEdges"/>
<line x1="272.80" y1="392.50" x2="309.90" y2="392.50" stroke-width="1.00" shape-rendering="crispEdges"/>
<line x1="291.50" y1="387.00" x2="291.50" y2="394.50" stroke-width="1.00" shape-rendering="crispEdges"/>
<line x1="291.50" y1="389.50" x2="291.50" y2="392.50" stroke-width="1.00" shape-rendering="crispEdges"/>
<line x1="278.00" y1="334.50" x2="304.00" y2="334.50" stroke-width="1.00" shape-rendering="crispEdges"/>
<rect x="274.80" y="327.50" width="1.70" height="14.20" stroke-width="0.90" fill="#000" shape-rendering="crispEdges"/>
<circle cx="273.40" cy="334.20" r="1.90" stroke-width="1.10" fill="none"/>
<line x1="275.00" y1="334.50" x2="270.80" y2="334.50" stroke-width="1.00" shape-rendering="crispEdges"/>
<rect x="305.50" y="327.50" width="1.70" height="14.20" stroke-width="0.90" fill="#000" shape-rendering="crispEdges"/>
<circle cx="308.60" cy="334.20" r="1.90" stroke-width="1.10" fill="none"/>
<line x1="307.00" y1="334.50" x2="311.20" y2="334.50" stroke-width="1.00" shape-rendering="crispEdges"/>
<line x1="278.00" y1="616.50" x2="304.00" y2="616.50" stroke-width="1.00" shape-rendering="crispEdges"/>
<rect x="274.80" y="609.60" width="1.70" height="14.20" stroke-width="0.90" fill="#000" shape-rendering="crispEdges"/>
<circle cx="273.40" cy="616.30" r="1.90" stroke-width="1.10" fill="none"/>
<line x1="275.00" y1="616.50" x2="270.80" y2="616.50" stroke-width="1.00" shape-rendering="crispEdges"/>
<rect x="305.50" y="609.60" width="1.70" height="14.20" stroke-width="0.90" fill="#000" shape-rendering="crispEdges"/>
<circle cx="308.60" cy="616.30" r="1.90" stroke-width="1.10" fill="none"/>
<line x1="307.00" y1="616.50" x2="311.20" y2="616.50" stroke-width="1.00" shape-rendering="crispEdges"/>
<line x1="281.00" y1="534.50" x2="301.50" y2="534.50" stroke-width="1.00" shape-rendering="crispEdges"/>
<text x="291.00" y="532.80" font-size="4.5" text-anchor="middle" font-weight="bold">870</text>
<line x1="278.50" y1="636.00" x2="278.50" y2="648.30" stroke-width="1.00" shape-rendering="crispEdges"/>
<line x1="303.50" y1="636.00" x2="303.50" y2="648.30" stroke-width="1.00" shape-rendering="crispEdges"/>
<line x1="278.50" y1="691.30" x2="278.50" y2="703.00" stroke-width="1.00" shape-rendering="crispEdges"/>
<line x1="303.50" y1="691.30" x2="303.50" y2="703.00" stroke-width="1.00" shape-rendering="crispEdges"/>
<line x1="276.30" y1="648.00" x2="306.30" y2="648.00" stroke-width="2.00" shape-rendering="crispEdges"/>
<line x1="276.30" y1="691.00" x2="306.30" y2="691.00" stroke-width="2.00" shape-rendering="crispEdges"/>
<line x1="277.00" y1="648.30" x2="277.00" y2="691.30" stroke-width="2.00" shape-rendering="crispEdges"/>
<line x1="306.00" y1="648.30" x2="306.00" y2="691.30" stroke-width="2.00" shape-rendering="crispEdges"/>
<line x1="278.50" y1="649.00" x2="278.50" y2="691.00" stroke-width="1.00" stroke-dasharray="2.5 1.5" shape-rendering="crispEdges"/>
<line x1="303.50" y1="649.00" x2="303.50" y2="691.00" stroke-width="1.00" stroke-dasharray="2.5 1.5" shape-rendering="crispEdges"/>
<line x1="283.50" y1="667.00" x2="283.50" y2="672.80" stroke-width="1.00" shape-rendering="crispEdges"/>
<line x1="296.50" y1="667.00" x2="296.50" y2="672.80" stroke-width="1.00" shape-rendering="crispEdges"/>
<line x1="274.70" y1="666.50" x2="277.30" y2="666.50" stroke-width="1.00" shape-rendering="crispEdges"/>
<line x1="274.70" y1="672.50" x2="277.30" y2="672.50" stroke-width="1.00" shape-rendering="crispEdges"/>
<line x1="274.50" y1="666.30" x2="274.50" y2="672.50" stroke-width="1.00" shape-rendering="crispEdges"/>
<line x1="276.50" y1="666.30" x2="276.50" y2="672.50" stroke-width="1.00" shape-rendering="crispEdges"/>
<line x1="305.80" y1="666.50" x2="308.40" y2="666.50" stroke-width="1.00" shape-rendering="crispEdges"/>
<line x1="305.80" y1="672.50" x2="308.40" y2="672.50" stroke-width="1.00" shape-rendering="crispEdges"/>
<line x1="305.50" y1="666.30" x2="305.50" y2="672.50" stroke-width="1.00" shape-rendering="crispEdges"/>
<line x1="307.50" y1="666.30" x2="307.50" y2="672.50" stroke-width="1.00" shape-rendering="crispEdges"/>
<line x1="275.90" y1="703.50" x2="305.90" y2="703.50" stroke-width="1.00" shape-rendering="crispEdges"/>
<line x1="275.90" y1="706.50" x2="305.90" y2="706.50" stroke-width="1.00" shape-rendering="crispEdges"/>
<line x1="291.50" y1="701.00" x2="291.50" y2="708.00" stroke-width="1.00" shape-rendering="crispEdges"/>
<line x1="276.50" y1="703.00" x2="276.50" y2="775.50" stroke-width="1.00" shape-rendering="crispEdges"/>
<line x1="305.50" y1="703.00" x2="305.50" y2="775.50" stroke-width="1.00" shape-rendering="crispEdges"/>
<line x1="281.70" y1="717.50" x2="302.20" y2="717.50" stroke-width="1.00" shape-rendering="crispEdges"/>
<line x1="281.70" y1="739.50" x2="302.20" y2="739.50" stroke-width="1.00" shape-rendering="crispEdges"/>
<line x1="281.50" y1="717.60" x2="281.50" y2="739.20" stroke-width="1.00" shape-rendering="crispEdges"/>
<line x1="301.50" y1="717.60" x2="301.50" y2="739.20" stroke-width="1.00" shape-rendering="crispEdges"/>
<line x1="281.70" y1="718.00" x2="301.70" y2="718.00" stroke-width="2.00" shape-rendering="crispEdges"/>
<line x1="283.60" y1="720.50" x2="300.30" y2="720.50" stroke-width="1.00" shape-rendering="crispEdges"/>
<line x1="283.60" y1="737.50" x2="300.30" y2="737.50" stroke-width="1.00" shape-rendering="crispEdges"/>
<line x1="283.50" y1="720.50" x2="283.50" y2="737.00" stroke-width="1.00" shape-rendering="crispEdges"/>
<line x1="299.50" y1="720.50" x2="299.50" y2="737.00" stroke-width="1.00" shape-rendering="crispEdges"/>
<line x1="284.00" y1="738.50" x2="299.50" y2="738.50" stroke-width="1.00" stroke-dasharray="2 1" shape-rendering="crispEdges"/>
<line x1="276.80" y1="742.50" x2="305.20" y2="742.50" stroke-width="1.00" shape-rendering="crispEdges"/>
<line x1="276.80" y1="772.50" x2="305.20" y2="772.50" stroke-width="1.00" shape-rendering="crispEdges"/>
<line x1="275.50" y1="718.30" x2="275.50" y2="768.30" stroke-width="1.00" shape-rendering="crispEdges"/>
<line x1="271.50" y1="718.30" x2="271.50" y2="768.30" stroke-width="1.00" shape-rendering="crispEdges"/>
<line x1="269.50" y1="731.70" x2="269.50" y2="756.70" stroke-width="1.00" shape-rendering="crispEdges"/>
<path d="M275.1 721 L273.3 717 L271.5 721" stroke-width="1.00" fill="#000"/>
<line x1="273.50" y1="724.00" x2="273.50" y2="768.00" stroke-width="1.00" shape-rendering="crispEdges"/>
<line x1="269.40" y1="740.50" x2="275.10" y2="740.50" stroke-width="1.00" shape-rendering="crispEdges"/>
<line x1="269.40" y1="744.50" x2="275.10" y2="744.50" stroke-width="1.00" shape-rendering="crispEdges"/>
<line x1="269.40" y1="748.50" x2="275.10" y2="748.50" stroke-width="1.00" shape-rendering="crispEdges"/>
<line x1="269.40" y1="752.50" x2="275.10" y2="752.50" stroke-width="1.00" shape-rendering="crispEdges"/>
<line x1="306.50" y1="718.30" x2="306.50" y2="768.30" stroke-width="1.00" shape-rendering="crispEdges"/>
<line x1="310.50" y1="718.30" x2="310.50" y2="768.30" stroke-width="1.00" shape-rendering="crispEdges"/>
<line x1="312.50" y1="731.70" x2="312.50" y2="756.70" stroke-width="1.00" shape-rendering="crispEdges"/>
<path d="M306.9 721 L308.7 717 L310.5 721" stroke-width="1.00" fill="#000"/>
<line x1="308.50" y1="724.00" x2="308.50" y2="768.00" stroke-width="1.00" shape-rendering="crispEdges"/>
<line x1="306.90" y1="740.50" x2="312.60" y2="740.50" stroke-width="1.00" shape-rendering="crispEdges"/>
<line x1="306.90" y1="744.50" x2="312.60" y2="744.50" stroke-width="1.00" shape-rendering="crispEdges"/>
<line x1="306.90" y1="748.50" x2="312.60" y2="748.50" stroke-width="1.00" shape-rendering="crispEdges"/>
<line x1="306.90" y1="752.50" x2="312.60" y2="752.50" stroke-width="1.00" shape-rendering="crispEdges"/>
<line x1="275.50" y1="775.50" x2="275.50" y2="811.70" stroke-width="1.00" shape-rendering="crispEdges"/>
<line x1="306.50" y1="775.50" x2="306.50" y2="811.70" stroke-width="1.00" shape-rendering="crispEdges"/>
<line x1="277.50" y1="775.50" x2="277.50" y2="800.00" stroke-width="1.00" shape-rendering="crispEdges"/>
<line x1="304.50" y1="775.50" x2="304.50" y2="800.00" stroke-width="1.00" shape-rendering="crispEdges"/>
<line x1="277.00" y1="775.50" x2="277.00" y2="787.00" stroke-width="2.00" shape-rendering="crispEdges"/>
<line x1="304.00" y1="775.50" x2="304.00" y2="787.00" stroke-width="2.00" shape-rendering="crispEdges"/>
<line x1="277.60" y1="798.50" x2="304.30" y2="798.50" stroke-width="1.00" shape-rendering="crispEdges"/>
<text x="291.00" y="796.60" font-size="4.4" text-anchor="middle" font-weight="bold">761</text>
<line x1="275.30" y1="810.50" x2="306.80" y2="810.50" stroke-width="1.00" shape-rendering="crispEdges"/>
<text x="291.00" y="807.80" font-size="4.4" text-anchor="middle" font-weight="bold">871</text>
<line x1="306.80" y1="782.50" x2="321.70" y2="790.30" stroke-width="1.00"/>
<text x="326.30" y="794.50" font-size="4.6" text-anchor="middle" font-weight="bold" transform="rotate(-90 326.30 794.50)">4-M24</text>
<text x="495.80" y="41.60" font-size="6" text-anchor="middle" font-weight="bold">料斗装配图</text>
<line x1="480.80" y1="43.50" x2="510.80" y2="43.50" stroke-width="1.00" shape-rendering="crispEdges"/>
<line x1="465.80" y1="60.00" x2="561.70" y2="60.00" stroke-width="2.00" shape-rendering="crispEdges"/>
<line x1="465.80" y1="59.60" x2="445.50" y2="74.20" stroke-width="1.00"/>
<line x1="466.60" y1="61.00" x2="446.20" y2="75.60" stroke-width="1.00"/>
<line x1="445.50" y1="74.20" x2="445.50" y2="194.20" stroke-width="1.00" shape-rendering="crispEdges"/>
<line x1="445.50" y1="201.30" x2="445.50" y2="325.00" stroke-width="1.00" shape-rendering="crispEdges"/>
<line x1="441.00" y1="76.70" x2="441.00" y2="103.30" stroke-width="2.00" shape-rendering="crispEdges"/>
<line x1="443.50" y1="76.70" x2="443.50" y2="103.30" stroke-width="1.00" shape-rendering="crispEdges"/>
<line x1="440.50" y1="76.50" x2="445.30" y2="76.50" stroke-width="1.00" shape-rendering="crispEdges"/>
<line x1="440.50" y1="103.50" x2="445.30" y2="103.50" stroke-width="1.00" shape-rendering="crispEdges"/>
<line x1="435.00" y1="90.50" x2="445.30" y2="90.50" stroke-width="1.00" shape-rendering="crispEdges"/>
<line x1="445.00" y1="103.00" x2="445.00" y2="113.00" stroke-width="2.00" shape-rendering="crispEdges"/>
<line x1="535.00" y1="52.50" x2="547.20" y2="52.50" stroke-width="1.00" shape-rendering="crispEdges"/>
<line x1="535.00" y1="59.50" x2="547.20" y2="59.50" stroke-width="1.00" shape-rendering="crispEdges"/>
<line x1="535.50" y1="52.50" x2="535.50" y2="59.80" stroke-width="1.00" shape-rendering="crispEdges"/>
<line x1="546.50" y1="52.50" x2="546.50" y2="59.80" stroke-width="1.00" shape-rendering="crispEdges"/>
<line x1="532.50" y1="55.50" x2="549.70" y2="55.50" stroke-width="1.00" shape-rendering="crispEdges"/>
<path d="M532.5 55 L534.3 53.6 M549.7 55 L547.9 53.6" stroke-width="0.90" fill="none"/>
<line x1="515.50" y1="55.00" x2="515.50" y2="59.80" stroke-width="1.00" shape-rendering="crispEdges"/>
<line x1="561.70" y1="59.80" x2="586.70" y2="90.00" stroke-width="1.00"/>
<line x1="560.30" y1="60.80" x2="585.30" y2="91.00" stroke-width="1.00"/>
<line x1="563.78" y1="62.32" x2="562.18" y2="63.12" stroke-width="0.70"/>
<line x1="565.87" y1="64.83" x2="564.27" y2="65.63" stroke-width="0.70"/>
<line x1="567.95" y1="67.35" x2="566.35" y2="68.15" stroke-width="0.70"/>
<line x1="570.03" y1="69.87" x2="568.43" y2="70.67" stroke-width="0.70"/>
<line x1="572.12" y1="72.38" x2="570.52" y2="73.18" stroke-width="0.70"/>
<line x1="574.20" y1="74.90" x2="572.60" y2="75.70" stroke-width="0.70"/>
<line x1="576.28" y1="77.42" x2="574.68" y2="78.22" stroke-width="0.70"/>
<line x1="578.37" y1="79.93" x2="576.77" y2="80.73" stroke-width="0.70"/>
<line x1="580.45" y1="82.45" x2="578.85" y2="83.25" stroke-width="0.70"/>
<line x1="582.53" y1="84.97" x2="580.93" y2="85.77" stroke-width="0.70"/>
<line x1="584.62" y1="87.48" x2="583.02" y2="88.28" stroke-width="0.70"/>
<line x1="587.00" y1="90.00" x2="587.00" y2="109.50" stroke-width="2.00" shape-rendering="crispEdges"/>
<line x1="587.50" y1="109.50" x2="587.50" y2="131.00" stroke-width="1.00" shape-rendering="crispEdges"/>
<line x1="585.00" y1="109.00" x2="591.70" y2="109.00" stroke-width="2.00" shape-rendering="crispEdges"/>
<line x1="588.30" y1="130.00" x2="550.80" y2="165.80" stroke-width="1.00"/>
<line x1="593.30" y1="132.00" x2="553.00" y2="171.30" stroke-width="1.00"/>
<line x1="588.30" y1="130.00" x2="593.30" y2="132.00" stroke-width="1.00"/>
<line x1="550.80" y1="165.80" x2="553.00" y2="171.30" stroke-width="1.00"/>
<line x1="546.70" y1="160.00" x2="550.80" y2="165.80" stroke-width="1.00"/>
<line x1="546.50" y1="160.00" x2="546.50" y2="194.20" stroke-width="1.00" shape-rendering="crispEdges"/>
<line x1="546.50" y1="201.30" x2="546.50" y2="315.80" stroke-width="1.00" shape-rendering="crispEdges"/>
<line x1="441.30" y1="194.50" x2="553.00" y2="194.50" stroke-width="1.00" shape-rendering="crispEdges"/>
<line x1="441.30" y1="201.50" x2="553.00" y2="201.50" stroke-width="1.00" shape-rendering="crispEdges"/>
<line x1="495.50" y1="56.70" x2="495.50" y2="337.50" stroke-width="1.00" shape-rendering="crispEdges"/>
<line x1="440.00" y1="109.50" x2="587.00" y2="109.50" stroke-width="1.00" shape-rendering="crispEdges"/>
<line x1="441.70" y1="258.50" x2="546.70" y2="258.50" stroke-width="1.00" shape-rendering="crispEdges"/>
<line x1="495.00" y1="195.50" x2="495.00" y2="200.00" stroke-width="2.00" shape-rendering="crispEdges"/>
<circle cx="495.60" cy="109.20" r="21.30" stroke-width="1.10" fill="none"/>
<circle cx="495.60" cy="109.20" r="6.10" stroke-width="1.00" fill="none"/>
<line x1="492.60" y1="88.00" x2="498.60" y2="88.00" stroke-width="2.00" shape-rendering="crispEdges"/>
<line x1="492.60" y1="131.00" x2="498.60" y2="131.00" stroke-width="2.00" shape-rendering="crispEdges"/>
<circle cx="495.60" cy="258.30" r="21.30" stroke-width="1.10" fill="none"/>
<circle cx="495.60" cy="258.30" r="6.10" stroke-width="1.00" fill="none"/>
<line x1="492.60" y1="237.00" x2="498.60" y2="237.00" stroke-width="2.00" shape-rendering="crispEdges"/>
<line x1="492.60" y1="280.00" x2="498.60" y2="280.00" stroke-width="2.00" shape-rendering="crispEdges"/>
<circle cx="495.60" cy="258.30" r="5.00" stroke-width="0.90" fill="none"/>
<path d="M471.2 109.20 A24.3 24.3 0 0 1 519.9 109.20" stroke-width="1.00" fill="none"/>
<path d="M472.9 109.20 A22.7 22.7 0 0 1 518.3 109.20" stroke-width="1.00" fill="none"/>
<path d="M471.2 258.30 A24.3 24.3 0 0 0 519.9 258.30" stroke-width="1.00" fill="none"/>
<path d="M472.9 258.30 A22.7 22.7 0 0 0 518.3 258.30" stroke-width="1.00" fill="none"/>
<line x1="473.30" y1="116.70" x2="543.30" y2="93.00" stroke-width="1.00"/>
<text x="535.30" y="92.30" font-size="4.2" text-anchor="middle" font-weight="bold" transform="rotate(-19 535.30 92.30)">R430</text>
<line x1="458.30" y1="274.20" x2="513.00" y2="251.70" stroke-width="1.00"/>
<text x="461.70" y="270.50" font-size="4.2" text-anchor="middle" font-weight="bold" transform="rotate(-22 461.70 270.50)">R430</text>
<path d="M473.5 265 A23.5 23.5 0 0 0 488.5 280.7" stroke-width="2.20" fill="none" stroke-dasharray="1.2 1"/>
<path d="M502.5 280.8 A23.5 23.5 0 0 0 513.5 273.5" stroke-width="2.00" fill="none" stroke-dasharray="1.2 1"/>
<line x1="471.50" y1="109.20" x2="471.50" y2="258.30" stroke-width="1.00" shape-rendering="crispEdges"/>
<line x1="473.50" y1="109.20" x2="473.50" y2="258.30" stroke-width="1.00" shape-rendering="crispEdges"/>
<line x1="518.50" y1="109.20" x2="518.50" y2="258.30" stroke-width="1.00" shape-rendering="crispEdges"/>
<line x1="520.50" y1="109.20" x2="520.50" y2="258.30" stroke-width="1.00" shape-rendering="crispEdges"/>
<rect x="446.3" y="194.9" width="100" height="5.8" fill="#fff" style="stroke:none"/>
<line x1="495.50" y1="194.00" x2="495.50" y2="202.00" stroke-width="1.00" shape-rendering="crispEdges"/>
<clipPath id="cu"><rect x="440" y="50" width="160" height="144.2"/></clipPath><clipPath id="cd"><rect x="440" y="201.3" width="160" height="140"/></clipPath>
<g clip-path="url(#cu)">
<path d="M471.80 124.20 L454.30 133.40" stroke-width="1.35" fill="none"/>
<path d="M454.30 133.40 L458.80 139.70 Q461.30 143.50 465.80 143.80 Q468.80 144.00 471.80 142.50" stroke-width="1.00" fill="none"/>
<path d="M468.30 128.70 L471.80 128.70" stroke-width="0.90" fill="none"/>
<path d="M471.80 151.90 L454.30 161.10" stroke-width="1.35" fill="none"/>
<path d="M454.30 161.10 L458.80 167.40 Q461.30 171.20 465.80 171.50 Q468.80 171.70 471.80 170.20" stroke-width="1.00" fill="none"/>
<path d="M468.30 156.40 L471.80 156.40" stroke-width="0.90" fill="none"/>
<path d="M471.80 180.00 L454.30 189.20" stroke-width="1.35" fill="none"/>
<path d="M454.30 189.20 L458.80 195.50 Q461.30 199.30 465.80 199.60 Q468.80 199.80 471.80 198.30" stroke-width="1.00" fill="none"/>
<path d="M468.30 184.50 L471.80 184.50" stroke-width="0.90" fill="none"/>
<path d="M471.80 97.00 L454.30 106.20" stroke-width="1.35" fill="none" transform="rotate(6 495.60 109.20)"/>
<path d="M454.30 106.20 L458.80 112.50 Q461.30 116.30 465.80 116.60 Q468.80 116.80 471.80 115.30" stroke-width="1.00" fill="none" transform="rotate(6 495.60 109.20)"/>
<path d="M468.30 101.50 L471.80 101.50" stroke-width="0.90" fill="none" transform="rotate(6 495.60 109.20)"/>
<path d="M471.80 99.00 L454.30 108.20" stroke-width="1.35" fill="none" transform="rotate(66 495.60 109.20)"/>
<path d="M454.30 108.20 L458.80 114.50 Q461.30 118.30 465.80 118.60 Q468.80 118.80 471.80 117.30" stroke-width="1.00" fill="none" transform="rotate(66 495.60 109.20)"/>
<path d="M468.30 103.50 L471.80 103.50" stroke-width="0.90" fill="none" transform="rotate(66 495.60 109.20)"/>
<path d="M471.80 99.00 L454.30 108.20" stroke-width="1.35" fill="none" transform="rotate(128 495.60 109.20)"/>
<path d="M454.30 108.20 L458.80 114.50 Q461.30 118.30 465.80 118.60 Q468.80 118.80 471.80 117.30" stroke-width="1.00" fill="none" transform="rotate(128 495.60 109.20)"/>
<path d="M468.30 103.50 L471.80 103.50" stroke-width="0.90" fill="none" transform="rotate(128 495.60 109.20)"/>
<path d="M519.90 127.50 L537.40 117.50" stroke-width="1.35" fill="none" transform="rotate(-3 495.60 109.20)"/>
<path d="M537.40 117.50 L531.90 109.70 Q529.40 107.10 525.40 107.30 Q522.40 107.50 519.90 109.20" stroke-width="1.00" fill="none" transform="rotate(-3 495.60 109.20)"/>
<path d="M519.90 120.50 L523.90 120.50" stroke-width="0.90" fill="none" transform="rotate(-3 495.60 109.20)"/>
<path d="M519.90 165.80 L537.40 155.80" stroke-width="1.35" fill="none"/>
<path d="M537.40 155.80 L531.90 148.00 Q529.40 145.40 525.40 145.60 Q522.40 145.80 519.90 147.50" stroke-width="1.00" fill="none"/>
<path d="M519.90 158.80 L523.90 158.80" stroke-width="0.90" fill="none"/>
<path d="M519.90 193.50 L537.40 183.50" stroke-width="1.35" fill="none"/>
<path d="M537.40 183.50 L531.90 175.70 Q529.40 173.10 525.40 173.30 Q522.40 173.50 519.90 175.20" stroke-width="1.00" fill="none"/>
<path d="M519.90 186.50 L523.90 186.50" stroke-width="0.90" fill="none"/>
</g><g clip-path="url(#cd)">
<path d="M471.80 185.50 L454.30 194.70" stroke-width="1.35" fill="none"/>
<path d="M454.30 194.70 L458.80 201.00 Q461.30 204.80 465.80 205.10 Q468.80 205.30 471.80 203.80" stroke-width="1.00" fill="none"/>
<path d="M468.30 190.00 L471.80 190.00" stroke-width="0.90" fill="none"/>
<path d="M471.80 213.50 L454.30 222.70" stroke-width="1.35" fill="none"/>
<path d="M454.30 222.70 L458.80 229.00 Q461.30 232.80 465.80 233.10 Q468.80 233.30 471.80 231.80" stroke-width="1.00" fill="none"/>
<path d="M468.30 218.00 L471.80 218.00" stroke-width="0.90" fill="none"/>
<path d="M471.80 242.70 L454.30 251.90" stroke-width="1.35" fill="none"/>
<path d="M454.30 251.90 L458.80 258.20 Q461.30 262.00 465.80 262.30 Q468.80 262.50 471.80 261.00" stroke-width="1.00" fill="none"/>
<path d="M468.30 247.20 L471.80 247.20" stroke-width="0.90" fill="none"/>
<path d="M519.90 215.50 L537.40 205.50" stroke-width="1.35" fill="none"/>
<path d="M537.40 205.50 L531.90 197.70 Q529.40 195.10 525.40 195.30 Q522.40 195.50 519.90 197.20" stroke-width="1.00" fill="none"/>
<path d="M519.90 208.50 L523.90 208.50" stroke-width="0.90" fill="none"/>
<path d="M519.90 244.30 L537.40 234.30" stroke-width="1.35" fill="none"/>
<path d="M537.40 234.30 L531.90 226.50 Q529.40 223.90 525.40 224.10 Q522.40 224.30 519.90 226.00" stroke-width="1.00" fill="none"/>
<path d="M519.90 237.30 L523.90 237.30" stroke-width="0.90" fill="none"/>
<path d="M519.90 270.00 L537.40 260.00" stroke-width="1.35" fill="none" transform="rotate(6 495.60 258.30)"/>
<path d="M537.40 260.00 L531.90 252.20 Q529.40 249.60 525.40 249.80 Q522.40 250.00 519.90 251.70" stroke-width="1.00" fill="none" transform="rotate(6 495.60 258.30)"/>
<path d="M519.90 263.00 L523.90 263.00" stroke-width="0.90" fill="none" transform="rotate(6 495.60 258.30)"/>
<path d="M519.90 268.00 L537.40 258.00" stroke-width="1.35" fill="none" transform="rotate(62 495.60 258.30)"/>
<path d="M537.40 258.00 L531.90 250.20 Q529.40 247.60 525.40 247.80 Q522.40 248.00 519.90 249.70" stroke-width="1.00" fill="none" transform="rotate(62 495.60 258.30)"/>
<path d="M519.90 261.00 L523.90 261.00" stroke-width="0.90" fill="none" transform="rotate(62 495.60 258.30)"/>
<path d="M519.90 268.00 L537.40 258.00" stroke-width="1.35" fill="none" transform="rotate(128 495.60 258.30)"/>
<path d="M537.40 258.00 L531.90 250.20 Q529.40 247.60 525.40 247.80 Q522.40 248.00 519.90 249.70" stroke-width="1.00" fill="none" transform="rotate(128 495.60 258.30)"/>
<path d="M519.90 261.00 L523.90 261.00" stroke-width="0.90" fill="none" transform="rotate(128 495.60 258.30)"/>
</g>
<path d="M520 128 L523.5 127 L524.5 130 L527 128 L528 131.5 L531 130.5 L531.5 133.5 L534 134 L533 137.5 L530 138 L529 140.5 L526 139 L524 141 L522 138.5 L520 139.5 Z" stroke-width="0.80" fill="#000"/>
<line x1="521.00" y1="127.00" x2="521.00" y2="150.00" stroke-width="2.00" shape-rendering="crispEdges"/>
<line x1="531.00" y1="139.00" x2="535.50" y2="144.00" stroke-width="0.90"/>
<line x1="535.50" y1="144.50" x2="540.00" y2="144.50" stroke-width="1.00" shape-rendering="crispEdges"/>
<text x="538.50" y="143.40" font-size="3.6" text-anchor="middle" font-weight="bold">14</text>
<circle cx="520.00" cy="156.70" r="5.90" stroke-width="1.00" fill="none"/>
<rect x="518.80" y="155.30" width="3.20" height="3.00" stroke-width="0.80" fill="#000" shape-rendering="crispEdges"/>
<line x1="504.40" y1="144.50" x2="507.10" y2="144.50" stroke-width="1.00" shape-rendering="crispEdges"/>
<line x1="504.40" y1="146.50" x2="507.10" y2="146.50" stroke-width="1.00" shape-rendering="crispEdges"/>
<line x1="504.50" y1="144.30" x2="504.50" y2="146.40" stroke-width="1.00" shape-rendering="crispEdges"/>
<line x1="506.50" y1="144.30" x2="506.50" y2="146.40" stroke-width="1.00" shape-rendering="crispEdges"/>
<path d="M503.5 148 L508 148 Q514 149.5 516.5 152.5" stroke-width="0.90" fill="none"/>
<text x="504.70" y="163.80" font-size="4.4" text-anchor="middle" font-weight="bold">II</text>
<path d="M502 165.8 L511.5 165.8 Q515 164 517 160.5" stroke-width="0.90" fill="none"/>
<text x="505.00" y="179.00" font-size="4" text-anchor="middle" font-weight="bold">9</text>
<path d="M503 180 L508 179.5 Q514 176 518 173" stroke-width="0.90" fill="none"/>
<line x1="530.00" y1="155.00" x2="536.00" y2="165.00" stroke-width="0.90"/>
<line x1="537.30" y1="163.50" x2="540.10" y2="163.50" stroke-width="1.00" shape-rendering="crispEdges"/>
<line x1="537.30" y1="165.50" x2="540.10" y2="165.50" stroke-width="1.00" shape-rendering="crispEdges"/>
<line x1="537.50" y1="163.30" x2="537.50" y2="165.60" stroke-width="1.00" shape-rendering="crispEdges"/>
<line x1="539.50" y1="163.30" x2="539.50" y2="165.60" stroke-width="1.00" shape-rendering="crispEdges"/>
<line x1="527.00" y1="150.00" x2="531.00" y2="155.00" stroke-width="0.90"/>
<line x1="468.30" y1="158.50" x2="488.00" y2="158.50" stroke-width="1.00" shape-rendering="crispEdges"/>
<line x1="468.30" y1="187.50" x2="488.00" y2="187.50" stroke-width="1.00" shape-rendering="crispEdges"/>
<line x1="486.50" y1="158.30" x2="486.50" y2="187.50" stroke-width="1.00" shape-rendering="crispEdges"/>
<text x="483.80" y="172.80" font-size="4.4" text-anchor="middle" font-weight="bold" transform="rotate(-90 483.80 172.80)">500</text>
<line x1="405.00" y1="212.50" x2="441.00" y2="212.50" stroke-width="1.00" shape-rendering="crispEdges"/>
<line x1="408.30" y1="216.50" x2="437.50" y2="216.50" stroke-width="1.00" shape-rendering="crispEdges"/>
<line x1="408.50" y1="212.50" x2="408.50" y2="216.30" stroke-width="1.00" shape-rendering="crispEdges"/>
<line x1="409.20" y1="216.70" x2="440.80" y2="246.70" stroke-width="1.00"/>
<line x1="437.50" y1="216.30" x2="437.50" y2="243.50" stroke-width="1.00" shape-rendering="crispEdges"/>
<line x1="442.00" y1="210.00" x2="442.00" y2="252.50" stroke-width="2.00" shape-rendering="crispEdges"/>
<circle cx="442.00" cy="210.60" r="1.25" stroke-width="0.80" fill="#000"/>
<circle cx="442.00" cy="218.60" r="1.25" stroke-width="0.80" fill="#000"/>
<circle cx="442.00" cy="226.90" r="1.25" stroke-width="0.80" fill="#000"/>
<circle cx="442.00" cy="235.10" r="1.25" stroke-width="0.80" fill="#000"/>
<circle cx="442.00" cy="243.40" r="1.25" stroke-width="0.80" fill="#000"/>
<circle cx="442.00" cy="250.80" r="1.25" stroke-width="0.80" fill="#000"/>
<line x1="440.50" y1="252.50" x2="445.30" y2="252.50" stroke-width="1.00" shape-rendering="crispEdges"/>
<line x1="549.00" y1="206.70" x2="549.00" y2="318.00" stroke-width="2.00" shape-rendering="crispEdges"/>
<line x1="550.00" y1="209.50" x2="552.60" y2="209.50" stroke-width="1.00" shape-rendering="crispEdges"/>
<line x1="550.00" y1="216.50" x2="552.60" y2="216.50" stroke-width="1.00" shape-rendering="crispEdges"/>
<line x1="550.00" y1="223.50" x2="552.60" y2="223.50" stroke-width="1.00" shape-rendering="crispEdges"/>
<line x1="550.00" y1="231.50" x2="552.60" y2="231.50" stroke-width="1.00" shape-rendering="crispEdges"/>
<line x1="550.00" y1="238.50" x2="552.60" y2="238.50" stroke-width="1.00" shape-rendering="crispEdges"/>
<line x1="550.00" y1="246.50" x2="552.60" y2="246.50" stroke-width="1.00" shape-rendering="crispEdges"/>
<line x1="550.00" y1="253.50" x2="552.60" y2="253.50" stroke-width="1.00" shape-rendering="crispEdges"/>
<line x1="550.00" y1="260.50" x2="552.60" y2="260.50" stroke-width="1.00" shape-rendering="crispEdges"/>
<line x1="550.00" y1="268.50" x2="552.60" y2="268.50" stroke-width="1.00" shape-rendering="crispEdges"/>
<line x1="550.00" y1="275.50" x2="552.60" y2="275.50" stroke-width="1.00" shape-rendering="crispEdges"/>
<line x1="550.00" y1="283.50" x2="552.60" y2="283.50" stroke-width="1.00" shape-rendering="crispEdges"/>
<line x1="550.00" y1="290.50" x2="552.60" y2="290.50" stroke-width="1.00" shape-rendering="crispEdges"/>
<line x1="550.00" y1="297.50" x2="552.60" y2="297.50" stroke-width="1.00" shape-rendering="crispEdges"/>
<line x1="550.00" y1="305.50" x2="552.60" y2="305.50" stroke-width="1.00" shape-rendering="crispEdges"/>
<line x1="550.00" y1="312.50" x2="552.60" y2="312.50" stroke-width="1.00" shape-rendering="crispEdges"/>
<line x1="550.80" y1="255.50" x2="556.80" y2="255.50" stroke-width="1.00" shape-rendering="crispEdges"/>
<line x1="550.80" y1="266.50" x2="556.80" y2="266.50" stroke-width="1.00" shape-rendering="crispEdges"/>
<line x1="550.50" y1="255.50" x2="550.50" y2="266.70" stroke-width="1.00" shape-rendering="crispEdges"/>
<line x1="556.50" y1="255.50" x2="556.50" y2="266.70" stroke-width="1.00" shape-rendering="crispEdges"/>
<line x1="437.00" y1="325.00" x2="555.00" y2="325.00" stroke-width="2.00" shape-rendering="crispEdges"/>
<path d="M445.5 288 Q450 302 460 312 Q476 324 495.6 325 Q505 324.5 513 321.5" stroke-width="1.00" fill="none"/>
<line x1="495.80" y1="324.30" x2="546.70" y2="312.60" stroke-width="1.80"/>
<line x1="547.50" y1="312.50" x2="547.50" y2="325.00" stroke-width="3.00" shape-rendering="crispEdges"/>
<line x1="445.00" y1="312.00" x2="445.00" y2="325.00" stroke-width="2.00" shape-rendering="crispEdges"/>
<text x="224.80" y="363.00" font-size="6" text-anchor="middle" font-weight="bold">I放大</text>
<line x1="217.40" y1="364.50" x2="232.20" y2="364.50" stroke-width="1.00" shape-rendering="crispEdges"/>
<path d="M236.5 375.3 L227.8 375.3 A16.6 16.6 0 0 0 227.8 408.5 L237 408.5 M236.5 375.3 Q239.6 375.6 239.6 378.5" stroke-width="1.00" fill="none"/>
<line x1="239.50" y1="378.50" x2="239.50" y2="407.80" stroke-width="1.00" shape-rendering="crispEdges"/>
<line x1="210.80" y1="389.50" x2="240.10" y2="389.50" stroke-width="1.00" shape-rendering="crispEdges"/>
<line x1="210.80" y1="396.50" x2="240.10" y2="396.50" stroke-width="1.00" shape-rendering="crispEdges"/>
<line x1="210.50" y1="389.60" x2="210.50" y2="396.60" stroke-width="1.00" shape-rendering="crispEdges"/>
<line x1="239.50" y1="389.60" x2="239.50" y2="396.60" stroke-width="1.00" shape-rendering="crispEdges"/>
<line x1="210.80" y1="393.50" x2="239.60" y2="393.50" stroke-width="1.00" shape-rendering="crispEdges"/>
<path d="M211 392.2 l0.9 -1.6 l0.9 1.6 l0.9 -1.6 l0.9 1.6 l0.9 -1.6 l0.9 1.6 l0.9 -1.6 l0.9 1.6 l0.9 -1.6 l0.9 1.6 l0.9 -1.6 l0.9 1.6 l0.9 -1.6 l0.9 1.6 l0.9 -1.6 l0.9 1.6" stroke-width="1.00" fill="none"/>
<path d="M211 395.8 l0.9 -1.6 l0.9 1.6 l0.9 -1.6 l0.9 1.6 l0.9 -1.6 l0.9 1.6 l0.9 -1.6 l0.9 1.6 l0.9 -1.6 l0.9 1.6 l0.9 -1.6 l0.9 1.6 l0.9 -1.6 l0.9 1.6 l0.9 -1.6 l0.9 1.6" stroke-width="1.00" fill="none"/>
<path d="M233.2 392.2 l0.9 -1.6 l0.9 1.6 l0.9 -1.6 l0.9 1.6 l0.9 -1.6 l0.9 1.6 M233.2 395.8 l0.9 -1.6 l0.9 1.6 l0.9 -1.6 l0.9 1.6 l0.9 -1.6 l0.9 1.6" stroke-width="1.00" fill="none"/>
<line x1="225.40" y1="383.50" x2="235.30" y2="383.50" stroke-width="1.00" shape-rendering="crispEdges"/>
<line x1="225.40" y1="389.50" x2="235.30" y2="389.50" stroke-width="1.00" shape-rendering="crispEdges"/>
<line x1="225.50" y1="383.70" x2="225.50" y2="389.60" stroke-width="1.00" shape-rendering="crispEdges"/>
<line x1="234.50" y1="383.70" x2="234.50" y2="389.60" stroke-width="1.00" shape-rendering="crispEdges"/>
<line x1="228.50" y1="383.70" x2="228.50" y2="389.60" stroke-width="1.00" shape-rendering="crispEdges"/>
<line x1="232.50" y1="383.70" x2="232.50" y2="389.60" stroke-width="1.00" shape-rendering="crispEdges"/>
<line x1="230.50" y1="379.00" x2="230.50" y2="401.40" stroke-width="1.00" shape-rendering="crispEdges"/>
<rect x="228.50" y="389.60" width="4.50" height="7.00" stroke-width="1.00" fill="#fff" shape-rendering="crispEdges"/>
<line x1="230.50" y1="389.00" x2="230.50" y2="397.00" stroke-width="1.00" shape-rendering="crispEdges"/>
<line x1="226.50" y1="396.50" x2="235.30" y2="396.50" stroke-width="1.00" shape-rendering="crispEdges"/>
<line x1="226.50" y1="398.50" x2="235.30" y2="398.50" stroke-width="1.00" shape-rendering="crispEdges"/>
<line x1="226.50" y1="396.60" x2="226.50" y2="398.90" stroke-width="1.00" shape-rendering="crispEdges"/>
<line x1="234.50" y1="396.60" x2="234.50" y2="398.90" stroke-width="1.00" shape-rendering="crispEdges"/>
<line x1="209.80" y1="393.50" x2="212.00" y2="393.50" stroke-width="1.00" shape-rendering="crispEdges"/>
<line x1="239.60" y1="391.90" x2="251.40" y2="383.10" stroke-width="1.00"/>
<line x1="251.20" y1="380.50" x2="254.50" y2="380.50" stroke-width="1.00" shape-rendering="crispEdges"/>
<line x1="251.20" y1="383.50" x2="254.50" y2="383.50" stroke-width="1.00" shape-rendering="crispEdges"/>
<line x1="251.50" y1="380.60" x2="251.50" y2="383.20" stroke-width="1.00" shape-rendering="crispEdges"/>
<line x1="254.50" y1="380.60" x2="254.50" y2="383.20" stroke-width="1.00" shape-rendering="crispEdges"/>
<line x1="230.70" y1="398.40" x2="250.80" y2="418.50" stroke-width="1.00"/>
<text x="254.60" y="423.00" font-size="4.4" text-anchor="middle" font-weight="bold" transform="rotate(-90 254.60 423.00)">GB5780</text>
<text x="599.80" y="204.20" font-size="5.6" text-anchor="middle" font-weight="bold">II放大</text>
<line x1="593.00" y1="205.50" x2="606.80" y2="205.50" stroke-width="1.00" shape-rendering="crispEdges"/>
<pattern id="xh" width="2.6" height="2.6" patternUnits="userSpaceOnUse"><path d="M0 0 L2.6 2.6 M2.6 0 L0 2.6" stroke="#000" stroke-width="0.75"/></pattern>
<rect x="590.3" y="228.3" width="11" height="66.7" fill="url(#xh)" stroke-width="1.2"/>
<line x1="583.00" y1="228.50" x2="613.00" y2="228.50" stroke-width="1.00" shape-rendering="crispEdges"/>
<line x1="583.00" y1="295.50" x2="613.00" y2="295.50" stroke-width="1.00" shape-rendering="crispEdges"/>
<line x1="605.50" y1="228.30" x2="605.50" y2="248.00" stroke-width="1.00" shape-rendering="crispEdges"/>
<line x1="608.50" y1="228.30" x2="608.50" y2="243.00" stroke-width="1.00" shape-rendering="crispEdges"/>
<line x1="605.50" y1="276.00" x2="605.50" y2="295.00" stroke-width="1.00" shape-rendering="crispEdges"/>
<line x1="608.50" y1="281.00" x2="608.50" y2="295.00" stroke-width="1.00" shape-rendering="crispEdges"/>
<path d="M601.3 238 Q606.5 246 607.5 256 L607.5 267 Q606.5 277 601.3 285 Z" stroke-width="1.00" fill="url(#xh)"/>
<path d="M601.3 240 Q606 246 608 254 M601.3 283 Q606 277 608 269" stroke-width="1.00" fill="none"/>
<path d="M608.7 243 Q616 246 617.5 255 M608.7 281 Q616 277 617.5 268" stroke-width="1.10" fill="none"/>
<path d="M611.5 243.5 Q619.5 248 620 256 M611.5 279.5 Q619.5 275 620 267" stroke-width="0.90" fill="none"/>
<path d="M605.8 248 Q611 250 612 256 M605.8 276 Q611 273 612 267" stroke-width="0.90" fill="none"/>
<path d="M602 246 L606 251 M602 250 L605 254 M602 277 L606 272 M603 272 L607 268 M609 247 L613 252 M609 276 L613 271" stroke-width="0.80" fill="none"/>
<rect x="595" y="258.3" width="38.3" height="6.7" fill="#fff" stroke-width="1.1"/>
<line x1="585.80" y1="261.50" x2="638.50" y2="261.50" stroke-width="1.00" shape-rendering="crispEdges"/>
<line x1="617.50" y1="254.50" x2="633.80" y2="254.50" stroke-width="1.00" shape-rendering="crispEdges"/>
<line x1="617.50" y1="268.50" x2="633.80" y2="268.50" stroke-width="1.00" shape-rendering="crispEdges"/>
<line x1="617.50" y1="254.20" x2="617.50" y2="268.30" stroke-width="1.00" shape-rendering="crispEdges"/>
<line x1="633.50" y1="254.20" x2="633.50" y2="268.30" stroke-width="1.00" shape-rendering="crispEdges"/>
<line x1="624.50" y1="254.20" x2="624.50" y2="268.30" stroke-width="1.00" shape-rendering="crispEdges"/>
<line x1="617.50" y1="258.50" x2="633.30" y2="258.50" stroke-width="1.00" shape-rendering="crispEdges"/>
<line x1="617.50" y1="265.50" x2="633.30" y2="265.50" stroke-width="1.00" shape-rendering="crispEdges"/>
<path d="M633.3 258.3 L635.5 261.5 L633.3 265 Z" stroke-width="0.90" fill="#000"/>
<line x1="605.50" y1="258.30" x2="605.50" y2="265.00" stroke-width="1.00" shape-rendering="crispEdges"/>
<line x1="608.50" y1="258.30" x2="608.50" y2="265.00" stroke-width="1.00" shape-rendering="crispEdges"/>
<line x1="591.00" y1="252.00" x2="591.00" y2="271.00" stroke-width="2.00" shape-rendering="crispEdges"/>
<line x1="575.00" y1="229.20" x2="591.70" y2="240.00" stroke-width="1.00"/>
<text x="575.30" y="228.20" font-size="3.6" text-anchor="middle" font-weight="bold">11</text>
<line x1="575.00" y1="239.20" x2="591.70" y2="247.50" stroke-width="1.00"/>
<text x="575.30" y="238.60" font-size="3.6" text-anchor="middle" font-weight="bold">8</text>
<line x1="581.00" y1="269.50" x2="590.50" y2="269.50" stroke-width="1.00" shape-rendering="crispEdges"/>
<text x="582.50" y="267.80" font-size="3.6" text-anchor="middle" font-weight="bold">10</text>
<line x1="609.20" y1="240.00" x2="642.50" y2="229.20" stroke-width="1.00"/>
<line x1="641.50" y1="226.50" x2="644.50" y2="226.50" stroke-width="1.00" shape-rendering="crispEdges"/>
<line x1="641.50" y1="228.50" x2="644.50" y2="228.50" stroke-width="1.00" shape-rendering="crispEdges"/>
<line x1="641.50" y1="226.30" x2="641.50" y2="228.70" stroke-width="1.00" shape-rendering="crispEdges"/>
<line x1="644.50" y1="226.30" x2="644.50" y2="228.70" stroke-width="1.00" shape-rendering="crispEdges"/>
<line x1="626.70" y1="266.70" x2="637.50" y2="284.20" stroke-width="1.00"/>
<text x="642.00" y="288.50" font-size="4.4" text-anchor="middle" font-weight="bold" transform="rotate(-90 642.00 288.50)">12,13</text>
<text x="421.80" y="354.00" font-size="6" text-anchor="middle" font-weight="bold">A向I</text>
<line x1="414.70" y1="355.50" x2="428.90" y2="355.50" stroke-width="1.00" shape-rendering="crispEdges"/>
<line x1="420.50" y1="360.60" x2="437.40" y2="385.80" stroke-width="1.00"/>
<text x="429.50" y="367.00" font-size="4.2" text-anchor="middle" font-weight="bold" transform="rotate(56 429.50 367.00)">4-Ø24</text>
<line x1="393.00" y1="380.50" x2="466.20" y2="380.50" stroke-width="1.00" shape-rendering="crispEdges"/>
<line x1="393.00" y1="457.50" x2="466.20" y2="457.50" stroke-width="1.00" shape-rendering="crispEdges"/>
<line x1="393.50" y1="380.30" x2="393.50" y2="457.30" stroke-width="1.00" shape-rendering="crispEdges"/>
<line x1="465.50" y1="380.30" x2="465.50" y2="457.30" stroke-width="1.00" shape-rendering="crispEdges"/>
<line x1="399.60" y1="387.50" x2="459.20" y2="387.50" stroke-width="1.00" shape-rendering="crispEdges"/>
<line x1="399.60" y1="450.50" x2="459.20" y2="450.50" stroke-width="1.00" shape-rendering="crispEdges"/>
<line x1="399.50" y1="387.00" x2="399.50" y2="450.90" stroke-width="1.00" shape-rendering="crispEdges"/>
<line x1="458.50" y1="387.00" x2="458.50" y2="450.90" stroke-width="1.00" shape-rendering="crispEdges"/>
<line x1="399.60" y1="387.00" x2="458.70" y2="387.00" stroke-width="2.00" shape-rendering="crispEdges"/>
<line x1="399.60" y1="451.00" x2="458.70" y2="451.00" stroke-width="2.00" shape-rendering="crispEdges"/>
<line x1="400.00" y1="387.00" x2="400.00" y2="450.90" stroke-width="2.00" shape-rendering="crispEdges"/>
<line x1="458.50" y1="380.30" x2="458.50" y2="457.30" stroke-width="1.00" shape-rendering="crispEdges"/>
<line x1="465.00" y1="380.30" x2="465.00" y2="457.30" stroke-width="2.00" shape-rendering="crispEdges"/>
<line x1="396.50" y1="380.30" x2="396.50" y2="457.30" stroke-width="1.00" shape-rendering="crispEdges"/>
<line x1="399.60" y1="411.50" x2="458.70" y2="411.50" stroke-width="1.00" shape-rendering="crispEdges"/>
<line x1="395.00" y1="418.50" x2="463.00" y2="418.50" stroke-width="1.00" shape-rendering="crispEdges"/>
<text x="427.00" y="409.80" font-size="4.2" text-anchor="middle" font-weight="bold">1100</text>
<line x1="369.50" y1="380.30" x2="369.50" y2="457.30" stroke-width="1.00" shape-rendering="crispEdges"/>
<line x1="378.50" y1="366.80" x2="378.50" y2="457.30" stroke-width="1.00" shape-rendering="crispEdges"/>
<line x1="386.50" y1="366.80" x2="386.50" y2="380.30" stroke-width="1.00" shape-rendering="crispEdges"/>
<line x1="386.50" y1="389.50" x2="386.50" y2="416.50" stroke-width="1.00" shape-rendering="crispEdges"/>
<line x1="386.50" y1="421.50" x2="386.50" y2="448.00" stroke-width="1.00" shape-rendering="crispEdges"/>
<line x1="392.50" y1="380.30" x2="392.50" y2="480.00" stroke-width="1.00" shape-rendering="crispEdges"/>
<line x1="368.30" y1="380.50" x2="400.00" y2="380.50" stroke-width="1.00" shape-rendering="crispEdges"/>
<line x1="377.00" y1="383.50" x2="396.00" y2="383.50" stroke-width="1.00" shape-rendering="crispEdges"/>
<line x1="385.00" y1="388.50" x2="397.00" y2="388.50" stroke-width="1.00" shape-rendering="crispEdges"/>
<line x1="385.00" y1="449.50" x2="397.00" y2="449.50" stroke-width="1.00" shape-rendering="crispEdges"/>
<line x1="377.00" y1="454.50" x2="396.00" y2="454.50" stroke-width="1.00" shape-rendering="crispEdges"/>
<line x1="368.30" y1="457.50" x2="400.00" y2="457.50" stroke-width="1.00" shape-rendering="crispEdges"/>
<text x="376.40" y="371.00" font-size="4.2" text-anchor="middle" font-weight="bold" transform="rotate(-90 376.40 371.00)">30</text>
<text x="384.20" y="371.00" font-size="4.2" text-anchor="middle" font-weight="bold" transform="rotate(-90 384.20 371.00)">15</text>
<text x="384.80" y="403.60" font-size="4.2" text-anchor="middle" font-weight="bold" transform="rotate(-90 384.80 403.60)">315</text>
<text x="384.80" y="434.00" font-size="4.2" text-anchor="middle" font-weight="bold" transform="rotate(-90 384.80 434.00)">315</text>
<text x="376.40" y="418.50" font-size="4.2" text-anchor="middle" font-weight="bold" transform="rotate(-90 376.40 418.50)">570</text>
<text x="368.30" y="418.50" font-size="4.4" text-anchor="middle" font-weight="bold" transform="rotate(-90 368.30 418.50)">630</text>
<line x1="478.50" y1="387.00" x2="478.50" y2="451.00" stroke-width="1.00" shape-rendering="crispEdges"/>
<line x1="465.70" y1="387.50" x2="480.20" y2="387.50" stroke-width="1.00" shape-rendering="crispEdges"/>
<line x1="465.70" y1="451.50" x2="480.20" y2="451.50" stroke-width="1.00" shape-rendering="crispEdges"/>
<text x="476.00" y="418.90" font-size="4.4" text-anchor="middle" font-weight="bold" transform="rotate(-90 476.00 418.90)">450</text>
<circle cx="410.60" cy="383.40" r="0.80" stroke-width="0.80" fill="#000"/>
<circle cx="410.60" cy="454.20" r="0.80" stroke-width="0.80" fill="#000"/>
<circle cx="435.80" cy="383.40" r="0.80" stroke-width="0.80" fill="#000"/>
<circle cx="435.80" cy="454.20" r="0.80" stroke-width="0.80" fill="#000"/>
<circle cx="461.20" cy="383.40" r="0.80" stroke-width="0.80" fill="#000"/>
<circle cx="461.20" cy="454.20" r="0.80" stroke-width="0.80" fill="#000"/>
<circle cx="396.10" cy="389.00" r="0.80" stroke-width="0.80" fill="#000"/>
<circle cx="396.10" cy="418.90" r="0.80" stroke-width="0.80" fill="#000"/>
<circle cx="396.10" cy="449.00" r="0.80" stroke-width="0.80" fill="#000"/>
<circle cx="461.20" cy="418.90" r="0.80" stroke-width="0.80" fill="#000"/>
<line x1="406.00" y1="383.50" x2="410.60" y2="383.50" stroke-width="1.00" shape-rendering="crispEdges"/>
<line x1="406.00" y1="454.50" x2="410.60" y2="454.50" stroke-width="1.00" shape-rendering="crispEdges"/>
<line x1="461.20" y1="418.50" x2="466.00" y2="418.50" stroke-width="1.00" shape-rendering="crispEdges"/>
<line x1="395.50" y1="457.30" x2="395.50" y2="471.00" stroke-width="1.00" shape-rendering="crispEdges"/>
<line x1="410.50" y1="457.30" x2="410.50" y2="471.00" stroke-width="1.00" shape-rendering="crispEdges"/>
<line x1="435.50" y1="457.30" x2="435.50" y2="471.00" stroke-width="1.00" shape-rendering="crispEdges"/>
<line x1="461.50" y1="457.30" x2="461.50" y2="471.00" stroke-width="1.00" shape-rendering="crispEdges"/>
<line x1="465.50" y1="457.30" x2="465.50" y2="480.00" stroke-width="1.00" shape-rendering="crispEdges"/>
<line x1="380.60" y1="468.50" x2="391.00" y2="468.50" stroke-width="1.00" shape-rendering="crispEdges"/>
<line x1="399.00" y1="468.50" x2="406.50" y2="468.50" stroke-width="1.00" shape-rendering="crispEdges"/>
<line x1="413.00" y1="468.50" x2="432.00" y2="468.50" stroke-width="1.00" shape-rendering="crispEdges"/>
<line x1="439.00" y1="468.50" x2="458.00" y2="468.50" stroke-width="1.00" shape-rendering="crispEdges"/>
<text x="382.40" y="465.60" font-size="4.2" text-anchor="middle" font-weight="bold">30</text>
<text x="402.30" y="465.60" font-size="4.4" text-anchor="middle" font-weight="bold">80</text>
<text x="422.60" y="465.60" font-size="4.2" text-anchor="middle" font-weight="bold">175</text>
<text x="448.40" y="465.60" font-size="4.2" text-anchor="middle" font-weight="bold">175</text>
<line x1="395.00" y1="477.50" x2="462.30" y2="477.50" stroke-width="1.00" shape-rendering="crispEdges"/>
<text x="428.10" y="475.00" font-size="4.4" text-anchor="middle" font-weight="bold">510</text>
<text x="421.80" y="495.30" font-size="6" text-anchor="middle" font-weight="bold">A向II</text>
<line x1="414.70" y1="496.50" x2="428.90" y2="496.50" stroke-width="1.00" shape-rendering="crispEdges"/>
<line x1="387.50" y1="509.50" x2="463.20" y2="509.50" stroke-width="1.00" shape-rendering="crispEdges"/>
<line x1="387.50" y1="507.60" x2="387.50" y2="594.50" stroke-width="1.00" shape-rendering="crispEdges"/>
<line x1="463.50" y1="507.60" x2="463.50" y2="594.50" stroke-width="1.00" shape-rendering="crispEdges"/>
<text x="425.00" y="507.60" font-size="4.2" text-anchor="middle" font-weight="bold">755</text>
<line x1="367.20" y1="521.50" x2="478.70" y2="521.50" stroke-width="1.00" shape-rendering="crispEdges"/>
<line x1="367.20" y1="594.50" x2="478.70" y2="594.50" stroke-width="1.00" shape-rendering="crispEdges"/>
<line x1="391.00" y1="522.00" x2="457.00" y2="522.00" stroke-width="2.00" shape-rendering="crispEdges"/>
<line x1="393.00" y1="526.50" x2="457.00" y2="526.50" stroke-width="1.00" shape-rendering="crispEdges"/>
<line x1="393.00" y1="590.00" x2="458.70" y2="590.00" stroke-width="2.00" shape-rendering="crispEdges"/>
<line x1="389.50" y1="521.20" x2="389.50" y2="615.70" stroke-width="1.00" shape-rendering="crispEdges"/>
<line x1="393.00" y1="522.00" x2="393.00" y2="594.50" stroke-width="2.00" shape-rendering="crispEdges"/>
<line x1="457.50" y1="522.00" x2="457.50" y2="594.50" stroke-width="1.00" shape-rendering="crispEdges"/>
<line x1="458.50" y1="522.00" x2="458.50" y2="594.50" stroke-width="1.00" shape-rendering="crispEdges"/>
<line x1="462.00" y1="521.20" x2="462.00" y2="594.50" stroke-width="2.00" shape-rendering="crispEdges"/>
<line x1="462.50" y1="594.50" x2="462.50" y2="615.70" stroke-width="1.00" shape-rendering="crispEdges"/>
<line x1="409.50" y1="526.20" x2="409.50" y2="589.80" stroke-width="1.00" shape-rendering="crispEdges"/>
<line x1="425.50" y1="517.50" x2="425.50" y2="606.00" stroke-width="1.00" shape-rendering="crispEdges"/>
<line x1="376.50" y1="558.50" x2="466.30" y2="558.50" stroke-width="1.00" shape-rendering="crispEdges"/>
<line x1="396.00" y1="567.50" x2="455.00" y2="567.50" stroke-width="1.00" shape-rendering="crispEdges"/>
<text x="425.00" y="565.20" font-size="4.2" text-anchor="middle" font-weight="bold">650</text>
<rect x="405.00" y="556.60" width="3.40" height="3.80" stroke-width="0.80" fill="#000" shape-rendering="crispEdges"/>
<path d="M369.3 524.7 L369.3 588 Q369.3 589.8 371 589.8" stroke-width="1.00" fill="none"/>
<line x1="379.50" y1="532.00" x2="379.50" y2="554.50" stroke-width="1.00" shape-rendering="crispEdges"/>
<line x1="379.50" y1="561.50" x2="379.50" y2="582.50" stroke-width="1.00" shape-rendering="crispEdges"/>
<line x1="377.00" y1="530.50" x2="391.00" y2="530.50" stroke-width="1.00" shape-rendering="crispEdges"/>
<line x1="377.00" y1="585.50" x2="391.00" y2="585.50" stroke-width="1.00" shape-rendering="crispEdges"/>
<text x="366.80" y="558.40" font-size="4.4" text-anchor="middle" font-weight="bold" transform="rotate(-90 366.80 558.40)">755</text>
<text x="377.00" y="544.00" font-size="4.2" text-anchor="middle" font-weight="bold" transform="rotate(-90 377.00 544.00)">275</text>
<text x="377.00" y="570.80" font-size="4.2" text-anchor="middle" font-weight="bold" transform="rotate(-90 377.00 570.80)">275</text>
<path d="M476.7 523.3 L476.7 590 Q476.7 591.8 475 591.8" stroke-width="1.00" fill="none"/>
<text x="474.00" y="558.40" font-size="4.4" text-anchor="middle" font-weight="bold" transform="rotate(-90 474.00 558.40)">75</text>
<circle cx="397.80" cy="523.60" r="0.80" stroke-width="0.80" fill="#000"/>
<circle cx="397.80" cy="592.90" r="0.80" stroke-width="0.80" fill="#000"/>
<circle cx="425.70" cy="523.60" r="0.80" stroke-width="0.80" fill="#000"/>
<circle cx="425.70" cy="592.90" r="0.80" stroke-width="0.80" fill="#000"/>
<circle cx="454.60" cy="523.60" r="0.80" stroke-width="0.80" fill="#000"/>
<circle cx="454.60" cy="592.90" r="0.80" stroke-width="0.80" fill="#000"/>
<circle cx="389.70" cy="530.50" r="0.80" stroke-width="0.80" fill="#000"/>
<circle cx="462.60" cy="530.50" r="0.80" stroke-width="0.80" fill="#000"/>
<circle cx="389.70" cy="558.40" r="0.80" stroke-width="0.80" fill="#000"/>
<circle cx="462.60" cy="558.40" r="0.80" stroke-width="0.80" fill="#000"/>
<circle cx="389.70" cy="585.80" r="0.80" stroke-width="0.80" fill="#000"/>
<circle cx="462.60" cy="585.80" r="0.80" stroke-width="0.80" fill="#000"/>
<line x1="462.60" y1="530.50" x2="466.00" y2="530.50" stroke-width="1.00" shape-rendering="crispEdges"/>
<line x1="462.60" y1="558.50" x2="468.00" y2="558.50" stroke-width="1.00" shape-rendering="crispEdges"/>
<line x1="436.40" y1="574.30" x2="467.40" y2="588.10" stroke-width="1.00"/>
<text x="446.50" y="577.00" font-size="4.2" text-anchor="middle" font-weight="bold" transform="rotate(24 446.50 577.00)">12-Ø14</text>
<line x1="397.50" y1="594.50" x2="397.50" y2="605.20" stroke-width="1.00" shape-rendering="crispEdges"/>
<line x1="454.50" y1="594.50" x2="454.50" y2="605.20" stroke-width="1.00" shape-rendering="crispEdges"/>
<line x1="400.00" y1="604.50" x2="422.00" y2="604.50" stroke-width="1.00" shape-rendering="crispEdges"/>
<line x1="429.50" y1="604.50" x2="452.00" y2="604.50" stroke-width="1.00" shape-rendering="crispEdges"/>
<text x="411.00" y="601.60" font-size="4.2" text-anchor="middle" font-weight="bold">275</text>
<text x="439.60" y="601.60" font-size="4.2" text-anchor="middle" font-weight="bold">275</text>
<line x1="389.50" y1="614.50" x2="462.40" y2="614.50" stroke-width="1.00" shape-rendering="crispEdges"/>
<text x="425.00" y="611.80" font-size="4.4" text-anchor="middle" font-weight="bold">730</text>
<text x="576.0" y="422.6" font-size="12.4" text-anchor="middle" font-weight="400" textLength="74" lengthAdjust="spacingAndGlyphs" style="stroke:none;font-family:'Noto Sans CJK SC','Liberation Sans',sans-serif">主要技术参数</text>
<line x1="502.20" y1="431.50" x2="659.20" y2="431.50" stroke-width="1.00" shape-rendering="crispEdges"/>
<line x1="502.20" y1="443.50" x2="659.20" y2="443.50" stroke-width="1.00" shape-rendering="crispEdges"/>
<line x1="502.20" y1="455.50" x2="659.20" y2="455.50" stroke-width="1.00" shape-rendering="crispEdges"/>
<line x1="502.20" y1="468.50" x2="659.20" y2="468.50" stroke-width="1.00" shape-rendering="crispEdges"/>
<line x1="502.20" y1="480.50" x2="659.20" y2="480.50" stroke-width="1.00" shape-rendering="crispEdges"/>
<line x1="502.20" y1="492.50" x2="659.20" y2="492.50" stroke-width="1.00" shape-rendering="crispEdges"/>
<line x1="502.20" y1="504.50" x2="659.20" y2="504.50" stroke-width="1.00" shape-rendering="crispEdges"/>
<line x1="502.20" y1="517.50" x2="659.20" y2="517.50" stroke-width="1.00" shape-rendering="crispEdges"/>
<line x1="502.20" y1="529.50" x2="659.20" y2="529.50" stroke-width="1.00" shape-rendering="crispEdges"/>
<line x1="502.20" y1="542.50" x2="659.20" y2="542.50" stroke-width="1.00" shape-rendering="crispEdges"/>
<line x1="502.20" y1="554.50" x2="659.20" y2="554.50" stroke-width="1.00" shape-rendering="crispEdges"/>
<line x1="502.20" y1="566.50" x2="659.20" y2="566.50" stroke-width="1.00" shape-rendering="crispEdges"/>
<line x1="502.20" y1="579.50" x2="659.20" y2="579.50" stroke-width="1.00" shape-rendering="crispEdges"/>
<line x1="502.50" y1="431.30" x2="502.50" y2="579.20" stroke-width="1.00" shape-rendering="crispEdges"/>
<line x1="567.50" y1="431.30" x2="567.50" y2="579.20" stroke-width="1.00" shape-rendering="crispEdges"/>
<line x1="659.50" y1="431.30" x2="659.50" y2="579.20" stroke-width="1.00" shape-rendering="crispEdges"/>
<text x="520.00" y="439.80" font-size="5.7" text-anchor="start" font-weight="bold" textLength="24.80" lengthAdjust="spacingAndGlyphs" xml:space="preserve">名  称</text>
<text x="590.90" y="439.80" font-size="5.7" text-anchor="start" font-weight="bold" textLength="27.10" lengthAdjust="spacingAndGlyphs" xml:space="preserve" class="m">参  数</text>
<text x="513.00" y="451.80" font-size="5.7" text-anchor="start" font-weight="bold" textLength="24.80" lengthAdjust="spacingAndGlyphs" xml:space="preserve">输送量</text>
<text x="582.10" y="451.80" font-size="6.3" text-anchor="start" font-weight="bold" textLength="21.70" lengthAdjust="spacingAndGlyphs" xml:space="preserve" class="m">70m³/h</text>
<text x="513.00" y="464.30" font-size="5.7" text-anchor="start" font-weight="bold" textLength="16.50" lengthAdjust="spacingAndGlyphs" xml:space="preserve">斗速</text>
<text x="582.00" y="464.30" font-size="6.3" text-anchor="start" font-weight="bold" textLength="28.40" lengthAdjust="spacingAndGlyphs" xml:space="preserve" class="m">1.56m/s</text>
<text x="513.00" y="476.70" font-size="5.7" text-anchor="start" font-weight="bold" textLength="16.50" lengthAdjust="spacingAndGlyphs" xml:space="preserve">斗容</text>
<text x="582.00" y="476.70" font-size="6.3" text-anchor="start" font-weight="bold" textLength="16.00" lengthAdjust="spacingAndGlyphs" xml:space="preserve" class="m">9.4L</text>
<text x="513.00" y="489.20" font-size="5.7" text-anchor="start" font-weight="bold" textLength="16.50" lengthAdjust="spacingAndGlyphs" xml:space="preserve">斗距</text>
<text x="582.00" y="489.20" font-size="6.3" text-anchor="start" font-weight="bold" textLength="16.60" lengthAdjust="spacingAndGlyphs" xml:space="preserve" class="m">500mm</text>
<text x="513.00" y="501.20" font-size="5.7" text-anchor="start" font-weight="bold" textLength="16.50" lengthAdjust="spacingAndGlyphs" xml:space="preserve">胶带</text>
<text x="573.20" y="501.20" font-size="6.3" text-anchor="start" font-weight="bold" textLength="61.30" lengthAdjust="spacingAndGlyphs" xml:space="preserve" class="m">ST1000钢丝绳胶带</text>
<text x="512.30" y="513.20" font-size="5.7" text-anchor="start" font-weight="bold" textLength="40.10" lengthAdjust="spacingAndGlyphs" xml:space="preserve">驱动电动机</text>
<text x="574.30" y="513.20" font-size="6.3" text-anchor="start" font-weight="bold" textLength="56.70" lengthAdjust="spacingAndGlyphs" xml:space="preserve" class="m">Y180M-4 (18.5 kW)</text>
<text x="513.00" y="525.60" font-size="5.7" text-anchor="start" font-weight="bold" textLength="32.30" lengthAdjust="spacingAndGlyphs" xml:space="preserve">主减速机</text>
<text x="575.00" y="525.60" font-size="6.3" text-anchor="start" font-weight="bold" textLength="76.00" lengthAdjust="spacingAndGlyphs" xml:space="preserve" class="m">KAS148-AK-200  i=31.1</text>
<text x="513.00" y="538.10" font-size="5.7" text-anchor="start" font-weight="bold" textLength="32.30" lengthAdjust="spacingAndGlyphs" xml:space="preserve">逆止装置</text>
<text x="573.20" y="538.10" font-size="5.7" text-anchor="start" font-weight="bold" textLength="38.90" lengthAdjust="spacingAndGlyphs" xml:space="preserve" class="m">滚柱逆止器</text>
<text x="513.00" y="550.70" font-size="5.7" text-anchor="start" font-weight="bold" textLength="39.40" lengthAdjust="spacingAndGlyphs" xml:space="preserve">液力偶合器</text>
<text x="573.20" y="550.70" font-size="6.3" text-anchor="start" font-weight="bold" textLength="21.90" lengthAdjust="spacingAndGlyphs" xml:space="preserve" class="m">YOX360</text>
<text x="511.80" y="563.20" font-size="5.7" text-anchor="start" font-weight="bold" textLength="46.70" lengthAdjust="spacingAndGlyphs" xml:space="preserve">驱动布置方式</text>
<text x="573.20" y="563.20" font-size="5.7" text-anchor="start" font-weight="bold" textLength="42.40" lengthAdjust="spacingAndGlyphs" xml:space="preserve" class="m">左右装各一台</text>
<text x="513.00" y="575.10" font-size="5.7" text-anchor="start" font-weight="bold" textLength="32.30" lengthAdjust="spacingAndGlyphs" xml:space="preserve">执行标准</text>
<text x="573.90" y="575.10" font-size="6.3" text-anchor="start" font-weight="bold" textLength="41.30" lengthAdjust="spacingAndGlyphs" xml:space="preserve" class="m">Q/HT01-2004</text>
<line x1="456.20" y1="643.50" x2="678.00" y2="643.50" stroke-width="1.00" shape-rendering="crispEdges"/>
<line x1="456.20" y1="652.50" x2="678.00" y2="652.50" stroke-width="1.00" shape-rendering="crispEdges"/>
<line x1="456.20" y1="661.50" x2="678.00" y2="661.50" stroke-width="1.00" shape-rendering="crispEdges"/>
<line x1="456.20" y1="669.50" x2="678.00" y2="669.50" stroke-width="1.00" shape-rendering="crispEdges"/>
<line x1="456.20" y1="678.50" x2="678.00" y2="678.50" stroke-width="1.00" shape-rendering="crispEdges"/>
<line x1="456.20" y1="687.50" x2="678.00" y2="687.50" stroke-width="1.00" shape-rendering="crispEdges"/>
<line x1="456.20" y1="696.50" x2="678.00" y2="696.50" stroke-width="1.00" shape-rendering="crispEdges"/>
<line x1="456.20" y1="705.50" x2="678.00" y2="705.50" stroke-width="1.00" shape-rendering="crispEdges"/>
<line x1="456.20" y1="714.50" x2="678.00" y2="714.50" stroke-width="1.00" shape-rendering="crispEdges"/>
<line x1="456.20" y1="723.50" x2="678.00" y2="723.50" stroke-width="1.00" shape-rendering="crispEdges"/>
<line x1="456.20" y1="731.50" x2="678.00" y2="731.50" stroke-width="1.00" shape-rendering="crispEdges"/>
<line x1="456.20" y1="740.50" x2="678.00" y2="740.50" stroke-width="1.00" shape-rendering="crispEdges"/>
<line x1="456.20" y1="749.50" x2="678.00" y2="749.50" stroke-width="1.00" shape-rendering="crispEdges"/>
<line x1="456.20" y1="758.50" x2="678.00" y2="758.50" stroke-width="1.00" shape-rendering="crispEdges"/>
<line x1="456.20" y1="767.50" x2="678.00" y2="767.50" stroke-width="1.00" shape-rendering="crispEdges"/>
<line x1="456.20" y1="776.50" x2="678.00" y2="776.50" stroke-width="1.00" shape-rendering="crispEdges"/>
<line x1="456.20" y1="785.50" x2="678.00" y2="785.50" stroke-width="1.00" shape-rendering="crispEdges"/>
<line x1="456.20" y1="793.50" x2="678.00" y2="793.50" stroke-width="1.00" shape-rendering="crispEdges"/>
<line x1="456.20" y1="802.50" x2="678.00" y2="802.50" stroke-width="1.00" shape-rendering="crispEdges"/>
<line x1="456.20" y1="811.50" x2="678.00" y2="811.50" stroke-width="1.00" shape-rendering="crispEdges"/>
<line x1="456.20" y1="820.50" x2="678.00" y2="820.50" stroke-width="1.00" shape-rendering="crispEdges"/>
<line x1="443.30" y1="643.50" x2="456.20" y2="643.50" stroke-width="1.00" shape-rendering="crispEdges"/>
<line x1="443.30" y1="669.50" x2="456.20" y2="669.50" stroke-width="1.00" shape-rendering="crispEdges"/>
<line x1="443.30" y1="705.50" x2="456.20" y2="705.50" stroke-width="1.00" shape-rendering="crispEdges"/>
<line x1="443.30" y1="767.50" x2="456.20" y2="767.50" stroke-width="1.00" shape-rendering="crispEdges"/>
<line x1="443.50" y1="643.40" x2="443.50" y2="822.00" stroke-width="1.00" shape-rendering="crispEdges"/>
<line x1="456.50" y1="643.40" x2="456.50" y2="822.00" stroke-width="1.00" shape-rendering="crispEdges"/>
<line x1="469.50" y1="643.40" x2="469.50" y2="822.00" stroke-width="1.00" shape-rendering="crispEdges"/>
<line x1="522.50" y1="643.40" x2="522.50" y2="822.00" stroke-width="1.00" shape-rendering="crispEdges"/>
<line x1="586.50" y1="643.40" x2="586.50" y2="822.00" stroke-width="1.00" shape-rendering="crispEdges"/>
<line x1="600.50" y1="643.40" x2="600.50" y2="822.00" stroke-width="1.00" shape-rendering="crispEdges"/>
<line x1="639.50" y1="643.40" x2="639.50" y2="822.00" stroke-width="1.00" shape-rendering="crispEdges"/>
<text x="459.60" y="649.20" font-size="4.5" text-anchor="start" font-weight="bold" textLength="3.90" lengthAdjust="spacingAndGlyphs" class="m">22</text>
<text x="476.90" y="649.30" font-size="4.7" text-anchor="start" font-weight="bold" textLength="21.30" lengthAdjust="spacingAndGlyphs" class="m">GB93-87</text>
<text x="530.50" y="649.90" font-size="5.3" text-anchor="start" font-weight="900" textLength="18.20" lengthAdjust="spacingAndGlyphs" class="m">垫圈20</text>
<text x="593.20" y="649.10" font-size="4.5" text-anchor="middle" font-weight="bold" class="m">4</text>
<text x="459.60" y="658.05" font-size="4.5" text-anchor="start" font-weight="bold" textLength="3.90" lengthAdjust="spacingAndGlyphs" class="m">21</text>
<text x="476.90" y="658.15" font-size="4.7" text-anchor="start" font-weight="bold" textLength="21.30" lengthAdjust="spacingAndGlyphs" class="m">GB41-86</text>
<text x="530.50" y="658.75" font-size="5.3" text-anchor="start" font-weight="900" textLength="20.80" lengthAdjust="spacingAndGlyphs" class="m">螺母M20</text>
<text x="593.20" y="657.95" font-size="4.5" text-anchor="middle" font-weight="bold" class="m">4</text>
<text x="459.60" y="666.90" font-size="4.5" text-anchor="start" font-weight="bold" textLength="3.90" lengthAdjust="spacingAndGlyphs" class="m">20</text>
<text x="476.90" y="667.00" font-size="4.7" text-anchor="start" font-weight="bold" textLength="28.40" lengthAdjust="spacingAndGlyphs" class="m">GB5781-86</text>
<text x="530.50" y="667.60" font-size="5.3" text-anchor="start" font-weight="900" textLength="39.80" lengthAdjust="spacingAndGlyphs" class="m">地脚螺栓M20X400</text>
<text x="593.20" y="666.80" font-size="4.5" text-anchor="middle" font-weight="bold" class="m">4</text>
<text x="459.60" y="675.75" font-size="4.5" text-anchor="start" font-weight="bold" textLength="3.90" lengthAdjust="spacingAndGlyphs" class="m">19</text>
<text x="530.50" y="676.45" font-size="5.3" text-anchor="start" font-weight="900" textLength="24.80" lengthAdjust="spacingAndGlyphs" class="m">石棉绳Ø5</text>
<text x="459.60" y="684.60" font-size="4.5" text-anchor="start" font-weight="bold" textLength="3.90" lengthAdjust="spacingAndGlyphs" class="m">18</text>
<text x="476.90" y="684.70" font-size="4.7" text-anchor="start" font-weight="bold" textLength="21.30" lengthAdjust="spacingAndGlyphs" class="m">GB93-87</text>
<text x="530.50" y="685.30" font-size="5.3" text-anchor="start" font-weight="900" textLength="18.50" lengthAdjust="spacingAndGlyphs" class="m">垫圈16</text>
<text x="589.70" y="684.50" font-size="4.5" text-anchor="start" font-weight="bold" textLength="7.40" lengthAdjust="spacingAndGlyphs" class="m">676</text>
<text x="459.60" y="693.45" font-size="4.5" text-anchor="start" font-weight="bold" textLength="3.90" lengthAdjust="spacingAndGlyphs" class="m">17</text>
<text x="476.90" y="693.55" font-size="4.7" text-anchor="start" font-weight="bold" textLength="21.30" lengthAdjust="spacingAndGlyphs" class="m">GB41-86</text>
<text x="530.50" y="694.15" font-size="5.3" text-anchor="start" font-weight="900" textLength="21.10" lengthAdjust="spacingAndGlyphs" class="m">螺母M16</text>
<text x="589.70" y="693.35" font-size="4.5" text-anchor="start" font-weight="bold" textLength="7.40" lengthAdjust="spacingAndGlyphs" class="m">676</text>
<text x="459.60" y="702.30" font-size="4.5" text-anchor="start" font-weight="bold" textLength="3.90" lengthAdjust="spacingAndGlyphs" class="m">16</text>
<text x="476.90" y="702.40" font-size="4.7" text-anchor="start" font-weight="bold" textLength="28.40" lengthAdjust="spacingAndGlyphs" class="m">GB5780-86</text>
<text x="530.50" y="703.00" font-size="5.3" text-anchor="start" font-weight="900" textLength="28.20" lengthAdjust="spacingAndGlyphs" class="m">螺栓M16X40</text>
<text x="589.70" y="702.20" font-size="4.5" text-anchor="start" font-weight="bold" textLength="7.40" lengthAdjust="spacingAndGlyphs" class="m">676</text>
<text x="459.60" y="711.15" font-size="4.5" text-anchor="start" font-weight="bold" textLength="3.90" lengthAdjust="spacingAndGlyphs" class="m">15</text>
<text x="476.90" y="711.25" font-size="4.7" text-anchor="start" font-weight="bold" textLength="37.60" lengthAdjust="spacingAndGlyphs" class="m">D-TGD400.5.3</text>
<text x="530.50" y="711.85" font-size="5.3" text-anchor="start" font-weight="900" textLength="22.00" lengthAdjust="spacingAndGlyphs" class="m">检头盖板</text>
<text x="593.20" y="711.05" font-size="4.5" text-anchor="middle" font-weight="bold" class="m">1</text>
<text x="459.60" y="720.00" font-size="4.5" text-anchor="start" font-weight="bold" textLength="3.90" lengthAdjust="spacingAndGlyphs" class="m">14</text>
<text x="469.90" y="719.20" font-size="3.9" text-anchor="start" font-weight="bold" textLength="36.20" lengthAdjust="spacingAndGlyphs">TGD400.07-ST1000</text>
<text x="530.50" y="720.70" font-size="5.3" text-anchor="start" font-weight="900" textLength="28.00" lengthAdjust="spacingAndGlyphs" class="m">钢丝绳胶带</text>
<text x="593.20" y="719.90" font-size="4.5" text-anchor="middle" font-weight="bold" class="m">1</text>
<text x="646.00" y="719.90" font-size="4.5" text-anchor="start" font-weight="bold" textLength="17.70" lengthAdjust="spacingAndGlyphs" class="m">L=77.6</text>
<text x="459.60" y="728.85" font-size="4.5" text-anchor="start" font-weight="bold" textLength="3.90" lengthAdjust="spacingAndGlyphs" class="m">13</text>
<text x="530.50" y="729.55" font-size="5.3" text-anchor="start" font-weight="900" textLength="17.00" lengthAdjust="spacingAndGlyphs" class="m">料斗垫</text>
<text x="589.70" y="728.75" font-size="4.5" text-anchor="start" font-weight="bold" textLength="7.40" lengthAdjust="spacingAndGlyphs" class="m">183</text>
<text x="459.60" y="737.70" font-size="4.5" text-anchor="start" font-weight="bold" textLength="3.90" lengthAdjust="spacingAndGlyphs" class="m">12</text>
<text x="477.30" y="737.80" font-size="4.7" text-anchor="start" font-weight="bold" textLength="28.00" lengthAdjust="spacingAndGlyphs" class="m">TGD400.5.1</text>
<text x="530.50" y="738.40" font-size="5.3" text-anchor="start" font-weight="900" textLength="9.50" lengthAdjust="spacingAndGlyphs" class="m">料斗</text>
<text x="589.70" y="737.60" font-size="4.5" text-anchor="start" font-weight="bold" textLength="7.40" lengthAdjust="spacingAndGlyphs" class="m">183</text>
<text x="459.60" y="746.55" font-size="4.5" text-anchor="start" font-weight="bold" textLength="3.90" lengthAdjust="spacingAndGlyphs" class="m">11</text>
<text x="530.50" y="747.25" font-size="5.3" text-anchor="start" font-weight="900" textLength="25.50" lengthAdjust="spacingAndGlyphs" class="m">斗用垫圈12</text>
<text x="589.70" y="746.45" font-size="4.5" text-anchor="start" font-weight="bold" textLength="7.40" lengthAdjust="spacingAndGlyphs" class="m">732</text>
<text x="459.60" y="755.40" font-size="4.5" text-anchor="start" font-weight="bold" textLength="3.90" lengthAdjust="spacingAndGlyphs" class="m">10</text>
<text x="476.90" y="755.50" font-size="4.7" text-anchor="start" font-weight="bold" textLength="21.30" lengthAdjust="spacingAndGlyphs" class="m">GB41-86</text>
<text x="530.50" y="756.10" font-size="5.3" text-anchor="start" font-weight="900" textLength="20.80" lengthAdjust="spacingAndGlyphs" class="m">螺母M12</text>
<text x="588.60" y="755.30" font-size="4.5" text-anchor="start" font-weight="bold" textLength="9.60" lengthAdjust="spacingAndGlyphs" class="m">1464</text>
<text x="460.20" y="764.25" font-size="4.5" text-anchor="start" font-weight="bold" class="m">9</text>
<text x="469.90" y="764.35" font-size="4.7" text-anchor="start" font-weight="bold" textLength="35.40" lengthAdjust="spacingAndGlyphs" class="m">GB/T3926.12</text>
<text x="530.50" y="764.95" font-size="5.3" text-anchor="start" font-weight="900" textLength="37.50" lengthAdjust="spacingAndGlyphs" class="m">胶带螺栓M12X50</text>
<text x="589.70" y="764.15" font-size="4.5" text-anchor="start" font-weight="bold" textLength="7.40" lengthAdjust="spacingAndGlyphs" class="m">732</text>
<text x="460.20" y="773.10" font-size="4.5" text-anchor="start" font-weight="bold" class="m">8</text>
<text x="477.30" y="773.20" font-size="4.7" text-anchor="start" font-weight="bold" textLength="21.80" lengthAdjust="spacingAndGlyphs" class="m">TGD400.8</text>
<text x="530.50" y="773.80" font-size="5.3" text-anchor="start" font-weight="900" textLength="22.00" lengthAdjust="spacingAndGlyphs" class="m">驱动装置</text>
<text x="593.20" y="773.00" font-size="4.5" text-anchor="middle" font-weight="bold" class="m">1</text>
<text x="640.60" y="770.20" font-size="2.9" text-anchor="start" font-weight="bold" textLength="24.00" lengthAdjust="spacingAndGlyphs">Y180M-4 18.5kW</text>
<text x="640.60" y="772.90" font-size="2.9" text-anchor="start" font-weight="bold" textLength="37.00" lengthAdjust="spacingAndGlyphs">KAS148-AK-200 i=31.1</text>
<text x="460.20" y="781.95" font-size="4.5" text-anchor="start" font-weight="bold" class="m">7</text>
<text x="477.30" y="782.05" font-size="4.7" text-anchor="start" font-weight="bold" textLength="21.80" lengthAdjust="spacingAndGlyphs" class="m">TGD400.7</text>
<text x="530.50" y="782.65" font-size="5.3" text-anchor="start" font-weight="900" textLength="22.00" lengthAdjust="spacingAndGlyphs" class="m">上部区段</text>
<text x="593.20" y="781.85" font-size="4.5" text-anchor="middle" font-weight="bold" class="m">1</text>
<text x="460.20" y="790.80" font-size="4.5" text-anchor="start" font-weight="bold" class="m">6</text>
<text x="477.30" y="790.90" font-size="4.7" text-anchor="start" font-weight="bold" textLength="21.80" lengthAdjust="spacingAndGlyphs" class="m">TGD400.6</text>
<text x="530.50" y="791.50" font-size="5.3" text-anchor="start" font-weight="900" textLength="43.20" lengthAdjust="spacingAndGlyphs" class="m">中部机壳(非标)</text>
<text x="593.20" y="790.70" font-size="4.5" text-anchor="middle" font-weight="bold" class="m">1</text>
<text x="645.30" y="790.70" font-size="4.5" text-anchor="start" font-weight="bold" textLength="20.00" lengthAdjust="spacingAndGlyphs" class="m">H=1200mm</text>
<text x="460.20" y="799.65" font-size="4.5" text-anchor="start" font-weight="bold" class="m">5</text>
<text x="477.30" y="799.75" font-size="4.7" text-anchor="start" font-weight="bold" textLength="24.80" lengthAdjust="spacingAndGlyphs" class="m">TGD400.3B</text>
<text x="530.50" y="800.35" font-size="5.3" text-anchor="start" font-weight="900" textLength="43.20" lengthAdjust="spacingAndGlyphs" class="m">中部机壳(带检)</text>
<text x="593.20" y="799.55" font-size="4.5" text-anchor="middle" font-weight="bold" class="m">1</text>
<text x="645.30" y="799.55" font-size="4.5" text-anchor="start" font-weight="bold" textLength="21.70" lengthAdjust="spacingAndGlyphs" class="m">H=2000mm</text>
<text x="460.20" y="808.50" font-size="4.5" text-anchor="start" font-weight="bold" class="m">4</text>
<text x="477.30" y="808.60" font-size="4.7" text-anchor="start" font-weight="bold" textLength="21.80" lengthAdjust="spacingAndGlyphs" class="m">TGD400.4</text>
<text x="530.50" y="809.20" font-size="5.3" text-anchor="start" font-weight="900" textLength="43.20" lengthAdjust="spacingAndGlyphs" class="m">中部机壳(标准)</text>
<text x="590.90" y="808.40" font-size="4.5" text-anchor="start" font-weight="bold" textLength="5.00" lengthAdjust="spacingAndGlyphs" class="m">14</text>
<text x="645.30" y="808.40" font-size="4.5" text-anchor="start" font-weight="bold" textLength="21.70" lengthAdjust="spacingAndGlyphs" class="m">H=2000mm</text>
<text x="460.20" y="817.35" font-size="4.5" text-anchor="start" font-weight="bold" class="m">3</text>
<text x="477.30" y="817.45" font-size="4.7" text-anchor="start" font-weight="bold" textLength="24.80" lengthAdjust="spacingAndGlyphs" class="m">TGD400.3F</text>
<text x="530.50" y="818.05" font-size="5.3" text-anchor="start" font-weight="900" textLength="43.20" lengthAdjust="spacingAndGlyphs" class="m">中部机壳(带视)</text>
<text x="593.20" y="817.25" font-size="4.5" text-anchor="middle" font-weight="bold" class="m">1</text>
<text x="645.30" y="817.25" font-size="4.5" text-anchor="start" font-weight="bold" textLength="21.70" lengthAdjust="spacingAndGlyphs" class="m">H=2000mm</text>
<text x="451.00" y="659.70" font-size="4.8" text-anchor="start" font-weight="bold" textLength="11.70" lengthAdjust="spacingAndGlyphs" transform="rotate(-90 451.00 659.70)">地脚</text>
<text x="451.00" y="694.70" font-size="4.8" text-anchor="start" font-weight="bold" textLength="18.40" lengthAdjust="spacingAndGlyphs" transform="rotate(-90 451.00 694.70)">连接件</text>
<text x="451.00" y="746.30" font-size="4.8" text-anchor="start" font-weight="bold" textLength="25.00" lengthAdjust="spacingAndGlyphs" transform="rotate(-90 451.00 746.30)">料斗组件</text>
<text x="451.00" y="826.00" font-size="4.8" text-anchor="start" font-weight="bold" textLength="38.00" lengthAdjust="spacingAndGlyphs" transform="rotate(-90 451.00 826.00)">壳体及部件</text>
</svg>
</body></html>
